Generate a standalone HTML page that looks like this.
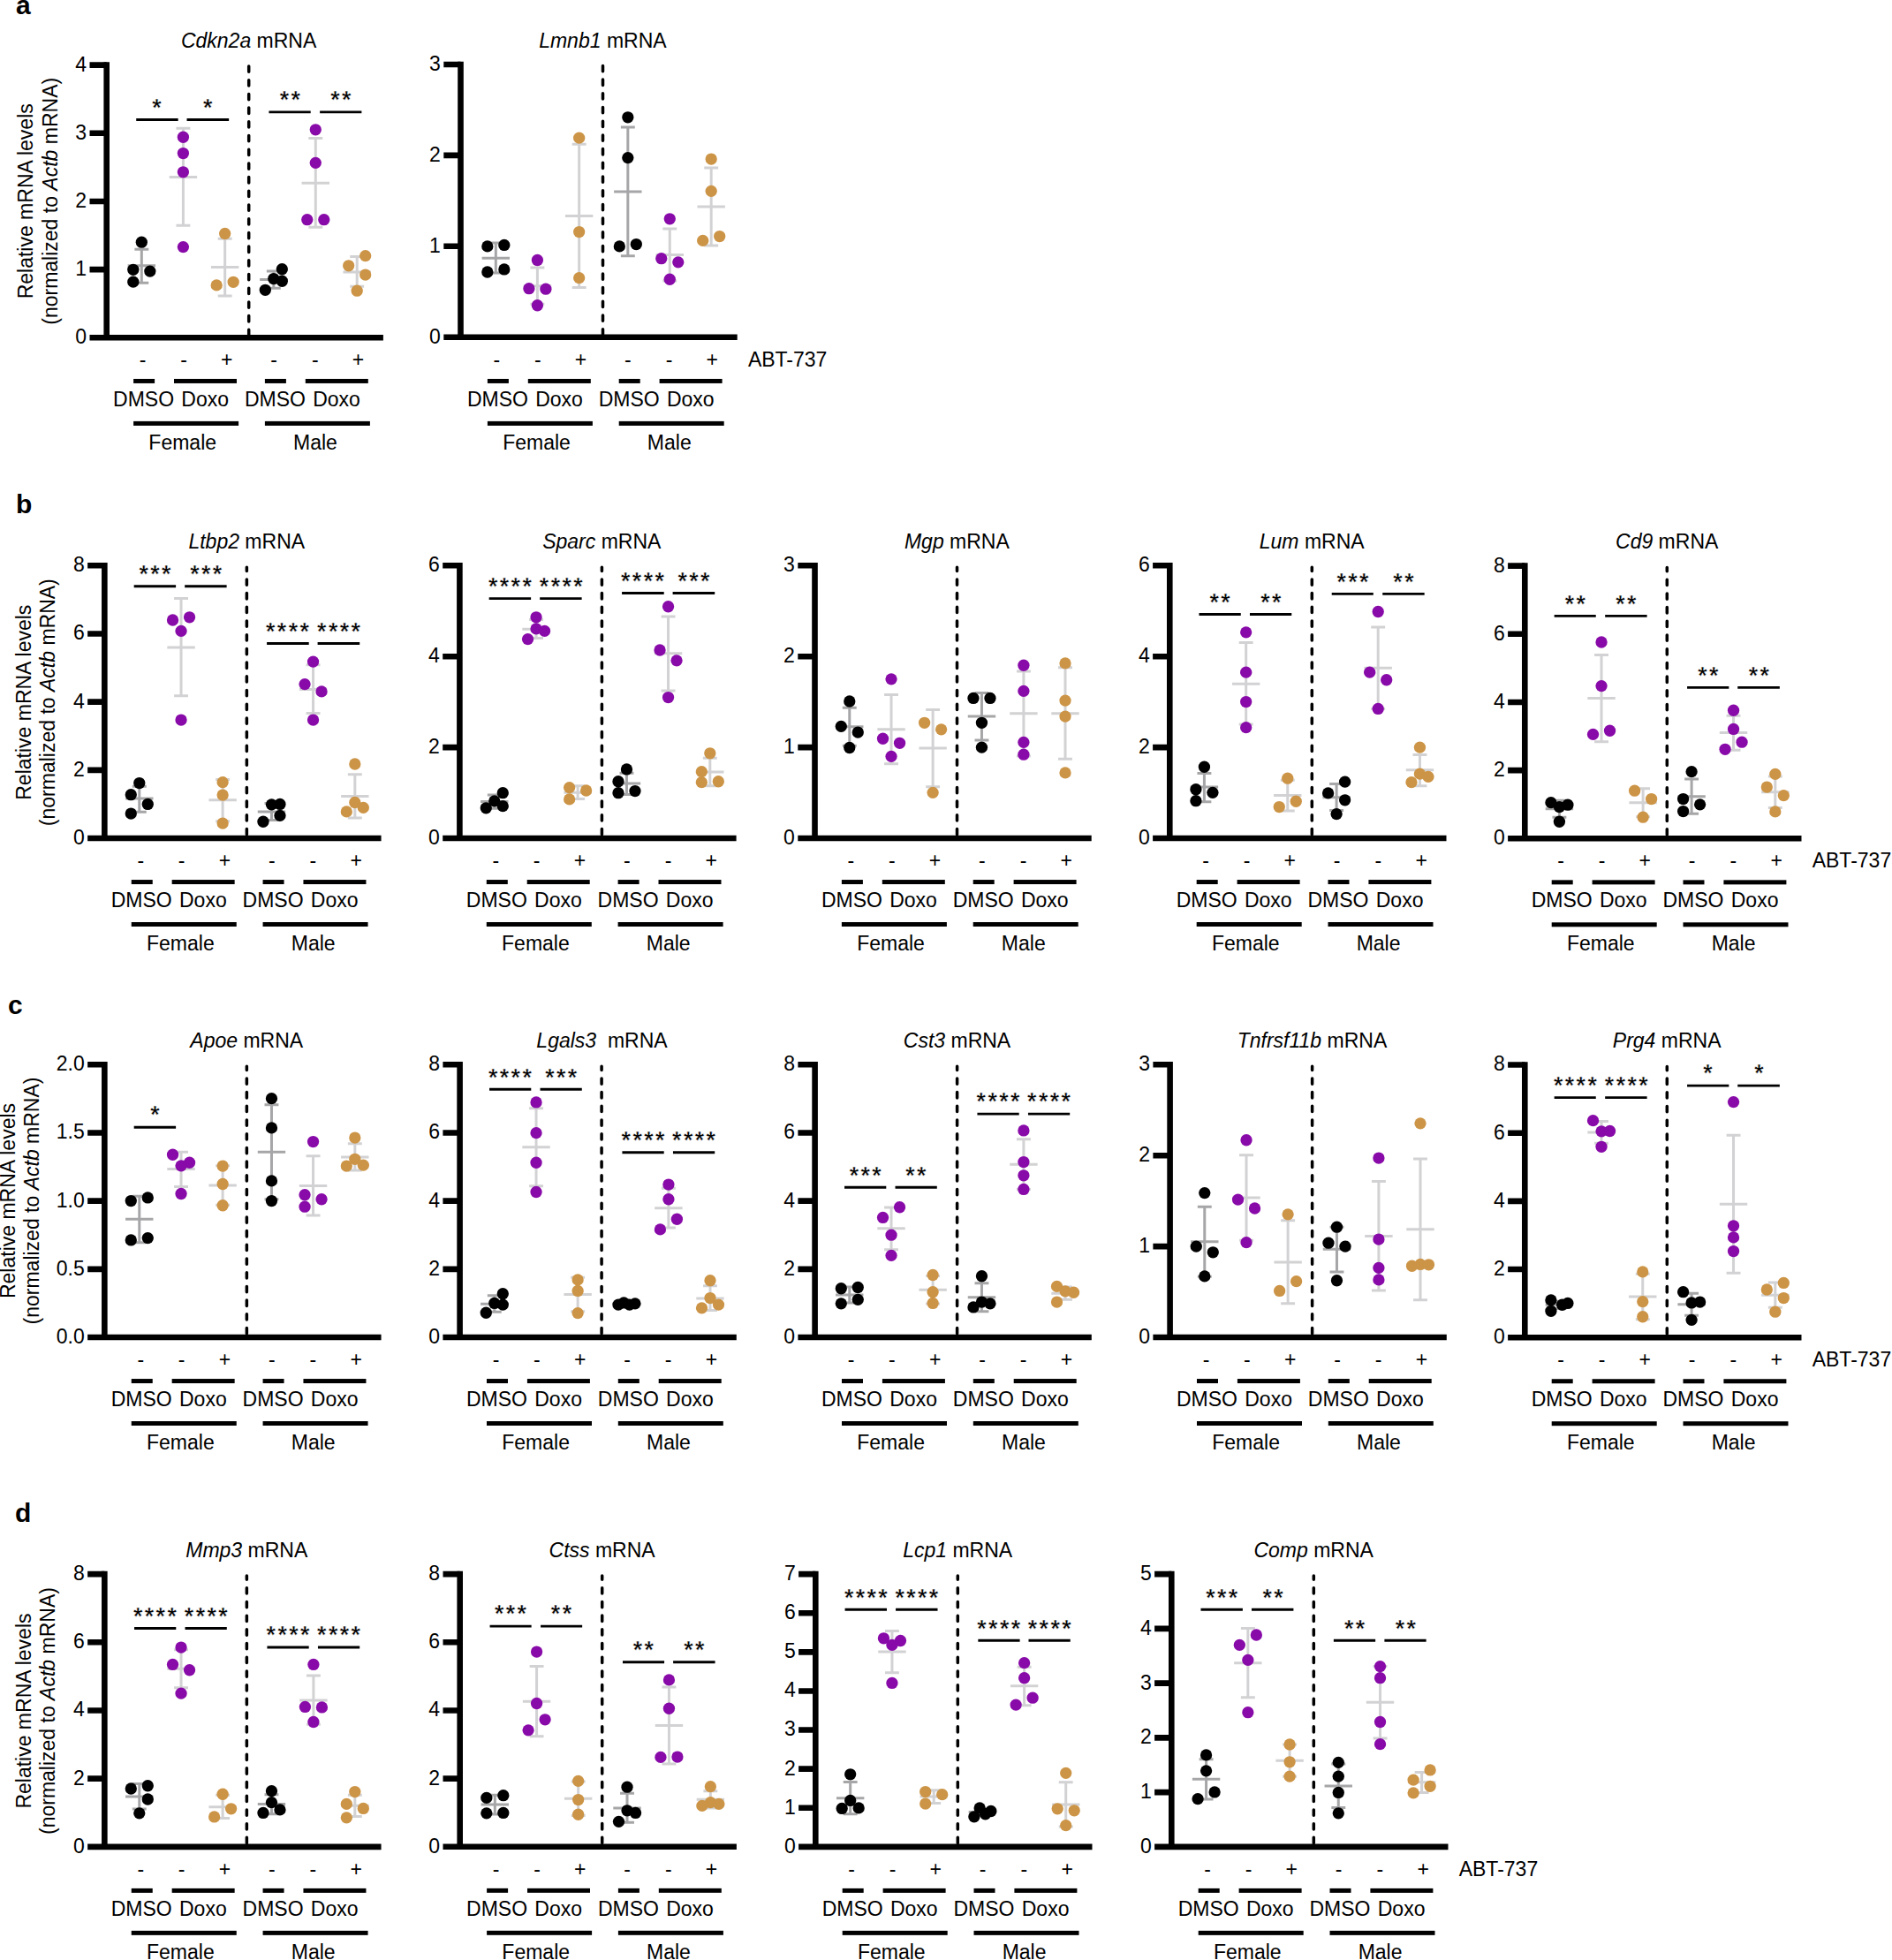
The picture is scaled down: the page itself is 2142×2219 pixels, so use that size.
<!DOCTYPE html>
<html lang="en"><head><meta charset="utf-8"><title>Relative mRNA levels</title>
<style>html,body{margin:0;padding:0;background:#fff}svg{display:block}text{font-family:'Liberation Sans', Arial, Helvetica, sans-serif;font-size:23px;fill:#000}.p{font-weight:bold;font-size:30px}.s{font-weight:bold;font-size:27.5px;letter-spacing:2.5px;stroke:#fff;stroke-width:.45px}</style></head><body>
<svg width="2142" height="2219" viewBox="0 0 2142 2219">
<rect width="2142" height="2219" fill="#fff"/>
<g id="a1">
<line x1="281.7" y1="379.6" x2="281.7" y2="74.65" stroke="#000" stroke-width="3.5" stroke-linecap="round" stroke-dasharray="6.3 9.4"/>
<path d="M160.32 282.29V320.21M152.37 282.29H168.27M152.37 320.21H168.27M144.62 300.8H176.02" stroke="#a6a6a8" stroke-width="3" fill="none"/>
<path d="M207.4 145.18V255.34M199.45 145.18H215.35M199.45 255.34H215.35M191.7 200.53H223.1" stroke="#d2d2d4" stroke-width="3" fill="none"/>
<path d="M254.66 270.25V334.95M246.71 270.25H262.61M246.71 334.95H262.61M238.96 302.6H270.36" stroke="#d2d2d4" stroke-width="3" fill="none"/>
<path d="M309.83 307.09V326.32M301.88 307.09H317.78M301.88 326.32H317.78M294.13 316.62H325.53" stroke="#a6a6a8" stroke-width="3" fill="none"/>
<path d="M357.27 156.5V257.32M349.32 156.5H365.22M349.32 257.32H365.22M341.57 207.36H372.97" stroke="#d2d2d4" stroke-width="3" fill="none"/>
<path d="M404.18 290.56V324.16M396.23 290.56H412.13M396.23 324.16H412.13M388.48 307.99H419.88" stroke="#d2d2d4" stroke-width="3" fill="none"/>
<g fill="#000000"><circle cx="160.32" cy="274.21" r="6.65"/><circle cx="150.82" cy="305.3" r="6.65"/><circle cx="169.82" cy="307.09" r="6.65"/><circle cx="150.82" cy="319.13" r="6.65"/></g>
<g fill="#880aa8"><circle cx="207.4" cy="155.24" r="6.65"/><circle cx="207.4" cy="173.57" r="6.65"/><circle cx="207.4" cy="194.78" r="6.65"/><circle cx="207.4" cy="279.6" r="6.65"/></g>
<g fill="#cc9446"><circle cx="254.66" cy="264.5" r="6.65"/><circle cx="245.16" cy="322.91" r="6.65"/><circle cx="264.16" cy="319.31" r="6.65"/></g>
<g fill="#000000"><circle cx="319.33" cy="304.76" r="6.65"/><circle cx="309.83" cy="315.54" r="6.65"/><circle cx="319.33" cy="318.23" r="6.65"/><circle cx="300.33" cy="328.3" r="6.65"/></g>
<g fill="#880aa8"><circle cx="357.27" cy="146.8" r="6.65"/><circle cx="357.27" cy="184.36" r="6.65"/><circle cx="347.77" cy="248.69" r="6.65"/><circle cx="366.77" cy="248.69" r="6.65"/></g>
<g fill="#cc9446"><circle cx="413.68" cy="289.66" r="6.65"/><circle cx="394.68" cy="300.8" r="6.65"/><circle cx="413.68" cy="311.05" r="6.65"/><circle cx="404.18" cy="329.2" r="6.65"/></g>
<path d="M120.7 70.3V385.6M101.5 382.3H433.9" stroke="#000" stroke-width="6.6" fill="none"/>
<path d="M101.5 305.12H120.7M101.5 227.95H120.7M101.5 150.78H120.7M101.5 73.6H120.7" stroke="#000" stroke-width="6.6" fill="none"/>
<text x="98.1" y="389.2" text-anchor="end">0</text>
<text x="98.1" y="312.02" text-anchor="end">1</text>
<text x="98.1" y="234.85" text-anchor="end">2</text>
<text x="98.1" y="157.68" text-anchor="end">3</text>
<text x="98.1" y="80.5" text-anchor="end">4</text>
<text x="281.6" y="53.7" text-anchor="middle" xml:space="preserve"><tspan font-style="italic">Cdkn2a</tspan> mRNA</text>
<line x1="154.21" y1="135.48" x2="201.65" y2="135.48" stroke="#000" stroke-width="2.9"/>
<text transform="translate(178.6 130.78) scale(0.97 1)" text-anchor="middle" class="s">*</text>
<line x1="211.53" y1="135.48" x2="259.15" y2="135.48" stroke="#000" stroke-width="2.9"/>
<text transform="translate(236.47 130.78) scale(0.97 1)" text-anchor="middle" class="s">*</text>
<line x1="304.44" y1="126.85" x2="351.7" y2="126.85" stroke="#000" stroke-width="2.9"/>
<text transform="translate(329.55 122.15) scale(0.97 1)" text-anchor="middle" class="s">**</text>
<line x1="362.12" y1="126.85" x2="409.39" y2="126.85" stroke="#000" stroke-width="2.9"/>
<text transform="translate(387.06 122.15) scale(0.97 1)" text-anchor="middle" class="s">**</text>
<text x="161.6" y="415" text-anchor="middle">-</text>
<text x="208" y="415" text-anchor="middle">-</text>
<text x="256.7" y="415" text-anchor="middle">+</text>
<text x="310.1" y="415" text-anchor="middle">-</text>
<text x="356.8" y="415" text-anchor="middle">-</text>
<text x="405.5" y="415" text-anchor="middle">+</text>
<rect x="151.1" y="428.95" width="24" height="5"/>
<rect x="197" y="428.95" width="71" height="5"/>
<rect x="151.1" y="476.9" width="119" height="5"/>
<text x="162.6" y="459.9" text-anchor="middle">DMSO</text>
<text x="232.2" y="459.9" text-anchor="middle">Doxo</text>
<rect x="299.9" y="428.95" width="24" height="5"/>
<rect x="345.8" y="428.95" width="71" height="5"/>
<rect x="299.9" y="476.9" width="119" height="5"/>
<text x="311.4" y="459.9" text-anchor="middle">DMSO</text>
<text x="381" y="459.9" text-anchor="middle">Doxo</text>
<text x="206.7" y="508.7" text-anchor="middle">Female</text>
<text x="357" y="508.7" text-anchor="middle">Male</text>
<text transform="translate(37 227.8) rotate(-90)" text-anchor="middle">Relative mRNA levels</text>
<text transform="translate(65 227.8) rotate(-90)" text-anchor="middle">(normalized to <tspan font-style="italic">Actb</tspan> mRNA)</text>
</g>
<g id="a2">
<line x1="682.5" y1="379" x2="682.5" y2="74.05" stroke="#000" stroke-width="3.5" stroke-linecap="round" stroke-dasharray="6.3 9.4"/>
<path d="M561.32 275.11V308.89M553.37 275.11H569.27M553.37 308.89H569.27M545.62 292.18H577.02" stroke="#a6a6a8" stroke-width="3" fill="none"/>
<path d="M608.4 302.96V344.29M600.45 302.96H616.35M600.45 344.29H616.35M592.7 323.63H624.1" stroke="#d2d2d4" stroke-width="3" fill="none"/>
<path d="M655.66 163.33V325.6M647.71 163.33H663.61M647.71 325.6H663.61M639.96 244.56H671.36" stroke="#d2d2d4" stroke-width="3" fill="none"/>
<path d="M710.83 143.92V289.66M702.88 143.92H718.78M702.88 289.66H718.78M695.13 216.88H726.53" stroke="#a6a6a8" stroke-width="3" fill="none"/>
<path d="M758.27 259.11V317.88M750.32 259.11H766.22M750.32 317.88H766.22M742.57 288.58H773.97" stroke="#d2d2d4" stroke-width="3" fill="none"/>
<path d="M805.18 189.93V277.98M797.23 189.93H813.13M797.23 277.98H813.13M789.48 233.95H820.88" stroke="#d2d2d4" stroke-width="3" fill="none"/>
<g fill="#000000"><circle cx="551.82" cy="278.88" r="6.65"/><circle cx="570.82" cy="277.44" r="6.65"/><circle cx="551.82" cy="307.99" r="6.65"/><circle cx="570.82" cy="304.94" r="6.65"/></g>
<g fill="#880aa8"><circle cx="608.4" cy="294.51" r="6.65"/><circle cx="598.9" cy="326.68" r="6.65"/><circle cx="617.9" cy="327.22" r="6.65"/><circle cx="608.4" cy="345.73" r="6.65"/></g>
<g fill="#cc9446"><circle cx="655.66" cy="156.14" r="6.65"/><circle cx="655.66" cy="262.53" r="6.65"/><circle cx="655.66" cy="314.64" r="6.65"/></g>
<g fill="#000000"><circle cx="710.83" cy="132.78" r="6.65"/><circle cx="710.83" cy="178.6" r="6.65"/><circle cx="701.33" cy="278.88" r="6.65"/><circle cx="720.33" cy="276.54" r="6.65"/></g>
<g fill="#880aa8"><circle cx="758.27" cy="247.79" r="6.65"/><circle cx="748.77" cy="292.72" r="6.65"/><circle cx="767.77" cy="296.85" r="6.65"/><circle cx="758.27" cy="316.26" r="6.65"/></g>
<g fill="#cc9446"><circle cx="805.18" cy="180.04" r="6.65"/><circle cx="805.18" cy="216.34" r="6.65"/><circle cx="795.68" cy="272.41" r="6.65"/><circle cx="814.68" cy="267.56" r="6.65"/></g>
<path d="M521.5 69.7V385M502.3 381.7H834.7" stroke="#000" stroke-width="6.6" fill="none"/>
<path d="M502.3 278.8H521.5M502.3 175.9H521.5M502.3 73H521.5" stroke="#000" stroke-width="6.6" fill="none"/>
<text x="498.9" y="388.6" text-anchor="end">0</text>
<text x="498.9" y="285.7" text-anchor="end">1</text>
<text x="498.9" y="182.8" text-anchor="end">2</text>
<text x="498.9" y="79.9" text-anchor="end">3</text>
<text x="682.4" y="53.7" text-anchor="middle" xml:space="preserve"><tspan font-style="italic">Lmnb1</tspan> mRNA</text>
<text x="562.4" y="415" text-anchor="middle">-</text>
<text x="608.8" y="415" text-anchor="middle">-</text>
<text x="657.5" y="415" text-anchor="middle">+</text>
<text x="710.9" y="415" text-anchor="middle">-</text>
<text x="757.6" y="415" text-anchor="middle">-</text>
<text x="806.3" y="415" text-anchor="middle">+</text>
<rect x="551.9" y="428.95" width="24" height="5"/>
<rect x="597.8" y="428.95" width="71" height="5"/>
<rect x="551.9" y="476.9" width="119" height="5"/>
<text x="563.4" y="459.9" text-anchor="middle">DMSO</text>
<text x="633" y="459.9" text-anchor="middle">Doxo</text>
<rect x="700.7" y="428.95" width="24" height="5"/>
<rect x="746.6" y="428.95" width="71" height="5"/>
<rect x="700.7" y="476.9" width="119" height="5"/>
<text x="712.2" y="459.9" text-anchor="middle">DMSO</text>
<text x="781.8" y="459.9" text-anchor="middle">Doxo</text>
<text x="607.5" y="508.7" text-anchor="middle">Female</text>
<text x="757.8" y="508.7" text-anchor="middle">Male</text>
<text x="846.9" y="414.7">ABT-737</text>
</g>
<g id="b1">
<line x1="279.35" y1="944.8" x2="279.35" y2="642.25" stroke="#000" stroke-width="3.5" stroke-linecap="round" stroke-dasharray="6.3 9.4"/>
<path d="M157.78 890.16V919.28M149.83 890.16H165.73M149.83 919.28H165.73M142.08 904H173.48" stroke="#a6a6a8" stroke-width="3" fill="none"/>
<path d="M205.04 677.58V787.73M197.09 677.58H212.99M197.09 787.73H212.99M189.34 732.92H220.74" stroke="#d2d2d4" stroke-width="3" fill="none"/>
<path d="M252.12 882.62V929.7M244.17 882.62H260.07M244.17 929.7H260.07M236.42 905.8H267.82" stroke="#d2d2d4" stroke-width="3" fill="none"/>
<path d="M307.47 909.57V928.44M299.52 909.57H315.42M299.52 928.44H315.42M291.77 918.92H323.17" stroke="#a6a6a8" stroke-width="3" fill="none"/>
<path d="M354.55 752.69V807.5M346.6 752.69H362.5M346.6 807.5H362.5M338.85 780.55H370.25" stroke="#d2d2d4" stroke-width="3" fill="none"/>
<path d="M401.82 876.69V926.11M393.87 876.69H409.77M393.87 926.11H409.77M386.12 901.49H417.52" stroke="#d2d2d4" stroke-width="3" fill="none"/>
<g fill="#000000"><circle cx="157.78" cy="886.57" r="6.65"/><circle cx="148.28" cy="899.69" r="6.65"/><circle cx="167.28" cy="910.47" r="6.65"/><circle cx="148.28" cy="921.07" r="6.65"/></g>
<g fill="#880aa8"><circle cx="195.54" cy="702.01" r="6.65"/><circle cx="214.54" cy="698.78" r="6.65"/><circle cx="205.04" cy="714.41" r="6.65"/><circle cx="205.04" cy="815.05" r="6.65"/></g>
<g fill="#cc9446"><circle cx="252.12" cy="885.67" r="6.65"/><circle cx="252.12" cy="900.05" r="6.65"/><circle cx="252.12" cy="932.04" r="6.65"/></g>
<g fill="#000000"><circle cx="307.47" cy="910.83" r="6.65"/><circle cx="316.97" cy="910.47" r="6.65"/><circle cx="316.97" cy="923.41" r="6.65"/><circle cx="297.97" cy="930.24" r="6.65"/></g>
<g fill="#880aa8"><circle cx="354.55" cy="749.1" r="6.65"/><circle cx="345.05" cy="774.62" r="6.65"/><circle cx="364.05" cy="782.88" r="6.65"/><circle cx="354.55" cy="815.05" r="6.65"/></g>
<g fill="#cc9446"><circle cx="401.82" cy="865.01" r="6.65"/><circle cx="401.82" cy="908.49" r="6.65"/><circle cx="411.32" cy="914.42" r="6.65"/><circle cx="392.32" cy="918.92" r="6.65"/></g>
<path d="M118.35 637V952.3M99.15 949H431.55" stroke="#000" stroke-width="6.6" fill="none"/>
<path d="M99.15 871.83H118.35M99.15 794.65H118.35M99.15 717.48H118.35M99.15 640.3H118.35" stroke="#000" stroke-width="6.6" fill="none"/>
<text x="95.75" y="955.9" text-anchor="end">0</text>
<text x="95.75" y="878.73" text-anchor="end">2</text>
<text x="95.75" y="801.55" text-anchor="end">4</text>
<text x="95.75" y="724.38" text-anchor="end">6</text>
<text x="95.75" y="647.2" text-anchor="end">8</text>
<text x="279.25" y="620.8" text-anchor="middle" xml:space="preserve"><tspan font-style="italic">Ltbp2</tspan> mRNA</text>
<line x1="151.67" y1="663.74" x2="199.11" y2="663.74" stroke="#000" stroke-width="2.9"/>
<text transform="translate(176.6 659.04) scale(0.97 1)" text-anchor="middle" class="s">***</text>
<line x1="209.17" y1="663.74" x2="256.62" y2="663.74" stroke="#000" stroke-width="2.9"/>
<text transform="translate(234.47 659.04) scale(0.97 1)" text-anchor="middle" class="s">***</text>
<line x1="302.08" y1="728.43" x2="349.7" y2="728.43" stroke="#000" stroke-width="2.9"/>
<text transform="translate(326.65 723.73) scale(0.97 1)" text-anchor="middle" class="s">****</text>
<line x1="359.59" y1="728.43" x2="407.21" y2="728.43" stroke="#000" stroke-width="2.9"/>
<text transform="translate(384.7 723.73) scale(0.97 1)" text-anchor="middle" class="s">****</text>
<text x="159.25" y="982.1" text-anchor="middle">-</text>
<text x="205.65" y="982.1" text-anchor="middle">-</text>
<text x="254.35" y="982.1" text-anchor="middle">+</text>
<text x="307.75" y="982.1" text-anchor="middle">-</text>
<text x="354.45" y="982.1" text-anchor="middle">-</text>
<text x="403.15" y="982.1" text-anchor="middle">+</text>
<rect x="148.75" y="996.05" width="24" height="5"/>
<rect x="194.65" y="996.05" width="71" height="5"/>
<rect x="148.75" y="1044" width="119" height="5"/>
<text x="160.25" y="1027" text-anchor="middle">DMSO</text>
<text x="229.85" y="1027" text-anchor="middle">Doxo</text>
<rect x="297.55" y="996.05" width="24" height="5"/>
<rect x="343.45" y="996.05" width="71" height="5"/>
<rect x="297.55" y="1044" width="119" height="5"/>
<text x="309.05" y="1027" text-anchor="middle">DMSO</text>
<text x="378.65" y="1027" text-anchor="middle">Doxo</text>
<text x="204.35" y="1075.8" text-anchor="middle">Female</text>
<text x="354.65" y="1075.8" text-anchor="middle">Male</text>
<text transform="translate(34.75 795.2) rotate(-90)" text-anchor="middle">Relative mRNA levels</text>
<text transform="translate(62 795.2) rotate(-90)" text-anchor="middle">(normalized to <tspan font-style="italic">Actb</tspan> mRNA)</text>
</g>
<g id="b2">
<line x1="681.4" y1="944.8" x2="681.4" y2="642.25" stroke="#000" stroke-width="3.5" stroke-linecap="round" stroke-dasharray="6.3 9.4"/>
<path d="M559.78 900.05V915.32M551.83 900.05H567.73M551.83 915.32H567.73M544.08 907.6H575.48" stroke="#a6a6a8" stroke-width="3" fill="none"/>
<path d="M607.04 701.48V722.5M599.09 701.48H614.99M599.09 722.5H614.99M591.34 712.26H622.74" stroke="#d2d2d4" stroke-width="3" fill="none"/>
<path d="M654.12 889.81V904.54M646.17 889.81H662.07M646.17 904.54H662.07M638.42 897.35H669.82" stroke="#d2d2d4" stroke-width="3" fill="none"/>
<path d="M709.47 875.25V899.51M701.52 875.25H717.42M701.52 899.51H717.42M693.77 887.11H725.17" stroke="#a6a6a8" stroke-width="3" fill="none"/>
<path d="M756.55 697.88V781.98M748.6 697.88H764.5M748.6 781.98H764.5M740.85 739.75H772.25" stroke="#d2d2d4" stroke-width="3" fill="none"/>
<path d="M803.82 858.36V889.81M795.87 858.36H811.77M795.87 889.81H811.77M788.12 873.99H819.52" stroke="#d2d2d4" stroke-width="3" fill="none"/>
<g fill="#000000"><circle cx="569.28" cy="897.71" r="6.65"/><circle cx="559.78" cy="906.88" r="6.65"/><circle cx="569.28" cy="912.63" r="6.65"/><circle cx="550.28" cy="914.78" r="6.65"/></g>
<g fill="#880aa8"><circle cx="607.04" cy="698.78" r="6.65"/><circle cx="607.04" cy="711.9" r="6.65"/><circle cx="616.54" cy="714.41" r="6.65"/><circle cx="597.54" cy="723.58" r="6.65"/></g>
<g fill="#cc9446"><circle cx="644.62" cy="891.6" r="6.65"/><circle cx="663.62" cy="895.02" r="6.65"/><circle cx="644.62" cy="904.9" r="6.65"/></g>
<g fill="#000000"><circle cx="709.47" cy="870.94" r="6.65"/><circle cx="699.97" cy="884.77" r="6.65"/><circle cx="699.97" cy="897.71" r="6.65"/><circle cx="718.97" cy="895.56" r="6.65"/></g>
<g fill="#880aa8"><circle cx="756.55" cy="686.74" r="6.65"/><circle cx="747.05" cy="735.98" r="6.65"/><circle cx="766.05" cy="747.84" r="6.65"/><circle cx="756.55" cy="789.53" r="6.65"/></g>
<g fill="#cc9446"><circle cx="803.82" cy="852.79" r="6.65"/><circle cx="794.32" cy="873.63" r="6.65"/><circle cx="794.32" cy="885.67" r="6.65"/><circle cx="813.32" cy="884.77" r="6.65"/></g>
<path d="M520.4 637V952.3M501.2 949H833.6" stroke="#000" stroke-width="6.6" fill="none"/>
<path d="M501.2 846.1H520.4M501.2 743.2H520.4M501.2 640.3H520.4" stroke="#000" stroke-width="6.6" fill="none"/>
<text x="497.8" y="955.9" text-anchor="end">0</text>
<text x="497.8" y="853" text-anchor="end">2</text>
<text x="497.8" y="750.1" text-anchor="end">4</text>
<text x="497.8" y="647.2" text-anchor="end">6</text>
<text x="681.3" y="620.8" text-anchor="middle" xml:space="preserve"><tspan font-style="italic">Sparc</tspan> mRNA</text>
<line x1="553.67" y1="677.58" x2="601.11" y2="677.58" stroke="#000" stroke-width="2.9"/>
<text transform="translate(578.6 672.88) scale(0.97 1)" text-anchor="middle" class="s">****</text>
<line x1="611.17" y1="677.58" x2="658.62" y2="677.58" stroke="#000" stroke-width="2.9"/>
<text transform="translate(636.47 672.88) scale(0.97 1)" text-anchor="middle" class="s">****</text>
<line x1="704.08" y1="671.47" x2="751.7" y2="671.47" stroke="#000" stroke-width="2.9"/>
<text transform="translate(728.65 666.77) scale(0.97 1)" text-anchor="middle" class="s">****</text>
<line x1="761.59" y1="671.47" x2="809.21" y2="671.47" stroke="#000" stroke-width="2.9"/>
<text transform="translate(786.7 666.77) scale(0.97 1)" text-anchor="middle" class="s">***</text>
<text x="561.3" y="982.1" text-anchor="middle">-</text>
<text x="607.7" y="982.1" text-anchor="middle">-</text>
<text x="656.4" y="982.1" text-anchor="middle">+</text>
<text x="709.8" y="982.1" text-anchor="middle">-</text>
<text x="756.5" y="982.1" text-anchor="middle">-</text>
<text x="805.2" y="982.1" text-anchor="middle">+</text>
<rect x="550.8" y="996.05" width="24" height="5"/>
<rect x="596.7" y="996.05" width="71" height="5"/>
<rect x="550.8" y="1044" width="119" height="5"/>
<text x="562.3" y="1027" text-anchor="middle">DMSO</text>
<text x="631.9" y="1027" text-anchor="middle">Doxo</text>
<rect x="699.6" y="996.05" width="24" height="5"/>
<rect x="745.5" y="996.05" width="71" height="5"/>
<rect x="699.6" y="1044" width="119" height="5"/>
<text x="711.1" y="1027" text-anchor="middle">DMSO</text>
<text x="780.7" y="1027" text-anchor="middle">Doxo</text>
<text x="606.4" y="1075.8" text-anchor="middle">Female</text>
<text x="756.7" y="1075.8" text-anchor="middle">Male</text>
</g>
<g id="b3">
<line x1="1083.5" y1="944.8" x2="1083.5" y2="642.25" stroke="#000" stroke-width="3.5" stroke-linecap="round" stroke-dasharray="6.3 9.4"/>
<path d="M961.78 801.21V844.34M953.83 801.21H969.73M953.83 844.34H969.73M946.08 822.78H977.48" stroke="#a6a6a8" stroke-width="3" fill="none"/>
<path d="M1009.04 786.48V864.65M1001.09 786.48H1016.99M1001.09 864.65H1016.99M993.34 825.83H1024.74" stroke="#d2d2d4" stroke-width="3" fill="none"/>
<path d="M1056.12 803.55V890.7M1048.17 803.55H1064.07M1048.17 890.7H1064.07M1040.42 847.04H1071.82" stroke="#d2d2d4" stroke-width="3" fill="none"/>
<path d="M1111.47 784.5V838.05M1103.52 784.5H1119.42M1103.52 838.05H1119.42M1095.77 811.1H1127.17" stroke="#a6a6a8" stroke-width="3" fill="none"/>
<path d="M1158.91 759.88V856.02M1150.96 759.88H1166.86M1150.96 856.02H1166.86M1143.21 807.86H1174.61" stroke="#d2d2d4" stroke-width="3" fill="none"/>
<path d="M1206 755.75V859.26M1198.05 755.75H1213.95M1198.05 859.26H1213.95M1190.3 807.86H1221.7" stroke="#d2d2d4" stroke-width="3" fill="none"/>
<g fill="#000000"><circle cx="961.78" cy="794.02" r="6.65"/><circle cx="952.28" cy="822.42" r="6.65"/><circle cx="971.28" cy="829.07" r="6.65"/><circle cx="961.78" cy="846.5" r="6.65"/></g>
<g fill="#880aa8"><circle cx="1009.04" cy="768.86" r="6.65"/><circle cx="999.54" cy="836.25" r="6.65"/><circle cx="1018.54" cy="841.29" r="6.65"/><circle cx="1009.04" cy="856.38" r="6.65"/></g>
<g fill="#cc9446"><circle cx="1046.62" cy="818.28" r="6.65"/><circle cx="1065.62" cy="825.83" r="6.65"/><circle cx="1056.12" cy="897.35" r="6.65"/></g>
<g fill="#000000"><circle cx="1101.97" cy="790.43" r="6.65"/><circle cx="1120.97" cy="790.43" r="6.65"/><circle cx="1111.47" cy="818.28" r="6.65"/><circle cx="1111.47" cy="846.14" r="6.65"/></g>
<g fill="#880aa8"><circle cx="1158.91" cy="753.23" r="6.65"/><circle cx="1158.91" cy="782.34" r="6.65"/><circle cx="1158.91" cy="840.39" r="6.65"/><circle cx="1158.91" cy="854.22" r="6.65"/></g>
<g fill="#cc9446"><circle cx="1206" cy="750.89" r="6.65"/><circle cx="1206" cy="793.12" r="6.65"/><circle cx="1206" cy="811.1" r="6.65"/><circle cx="1206" cy="874.89" r="6.65"/></g>
<path d="M922.5 637V952.3M903.3 949H1235.7" stroke="#000" stroke-width="6.6" fill="none"/>
<path d="M903.3 846.1H922.5M903.3 743.2H922.5M903.3 640.3H922.5" stroke="#000" stroke-width="6.6" fill="none"/>
<text x="899.9" y="955.9" text-anchor="end">0</text>
<text x="899.9" y="853" text-anchor="end">1</text>
<text x="899.9" y="750.1" text-anchor="end">2</text>
<text x="899.9" y="647.2" text-anchor="end">3</text>
<text x="1083.4" y="620.8" text-anchor="middle" xml:space="preserve"><tspan font-style="italic">Mgp</tspan> mRNA</text>
<text x="963.4" y="982.1" text-anchor="middle">-</text>
<text x="1009.8" y="982.1" text-anchor="middle">-</text>
<text x="1058.5" y="982.1" text-anchor="middle">+</text>
<text x="1111.9" y="982.1" text-anchor="middle">-</text>
<text x="1158.6" y="982.1" text-anchor="middle">-</text>
<text x="1207.3" y="982.1" text-anchor="middle">+</text>
<rect x="952.9" y="996.05" width="24" height="5"/>
<rect x="998.8" y="996.05" width="71" height="5"/>
<rect x="952.9" y="1044" width="119" height="5"/>
<text x="964.4" y="1027" text-anchor="middle">DMSO</text>
<text x="1034" y="1027" text-anchor="middle">Doxo</text>
<rect x="1101.7" y="996.05" width="24" height="5"/>
<rect x="1147.6" y="996.05" width="71" height="5"/>
<rect x="1101.7" y="1044" width="119" height="5"/>
<text x="1113.2" y="1027" text-anchor="middle">DMSO</text>
<text x="1182.8" y="1027" text-anchor="middle">Doxo</text>
<text x="1008.5" y="1075.8" text-anchor="middle">Female</text>
<text x="1158.8" y="1075.8" text-anchor="middle">Male</text>
</g>
<g id="b4">
<line x1="1485.3" y1="944.8" x2="1485.3" y2="642.25" stroke="#000" stroke-width="3.5" stroke-linecap="round" stroke-dasharray="6.3 9.4"/>
<path d="M1363.42 875.43V907.78M1355.47 875.43H1371.37M1355.47 907.78H1371.37M1347.72 891.06H1379.12" stroke="#a6a6a8" stroke-width="3" fill="none"/>
<path d="M1410.68 727.53V820.08M1402.73 727.53H1418.63M1402.73 820.08H1418.63M1394.98 774.26H1426.38" stroke="#d2d2d4" stroke-width="3" fill="none"/>
<path d="M1457.76 883.16V918.02M1449.81 883.16H1465.71M1449.81 918.02H1465.71M1442.06 900.59H1473.46" stroke="#d2d2d4" stroke-width="3" fill="none"/>
<path d="M1513.11 887.47V917.48M1505.16 887.47H1521.06M1505.16 917.48H1521.06M1497.41 902.74H1528.81" stroke="#a6a6a8" stroke-width="3" fill="none"/>
<path d="M1560.19 710.1V802.47M1552.24 710.1H1568.14M1552.24 802.47H1568.14M1544.49 756.29H1575.89" stroke="#d2d2d4" stroke-width="3" fill="none"/>
<path d="M1607.46 854.58V889.63M1599.51 854.58H1615.41M1599.51 889.63H1615.41M1591.76 871.84H1623.16" stroke="#d2d2d4" stroke-width="3" fill="none"/>
<g fill="#000000"><circle cx="1363.42" cy="868.24" r="6.65"/><circle cx="1353.92" cy="893.76" r="6.65"/><circle cx="1372.92" cy="897.35" r="6.65"/><circle cx="1353.92" cy="906.7" r="6.65"/></g>
<g fill="#880aa8"><circle cx="1410.68" cy="715.85" r="6.65"/><circle cx="1410.68" cy="761.14" r="6.65"/><circle cx="1410.68" cy="794.56" r="6.65"/><circle cx="1410.68" cy="823.67" r="6.65"/></g>
<g fill="#cc9446"><circle cx="1457.76" cy="881.18" r="6.65"/><circle cx="1467.26" cy="907.24" r="6.65"/><circle cx="1448.26" cy="913.53" r="6.65"/></g>
<g fill="#000000"><circle cx="1522.61" cy="885.13" r="6.65"/><circle cx="1503.61" cy="897.89" r="6.65"/><circle cx="1522.61" cy="905.8" r="6.65"/><circle cx="1513.11" cy="921.61" r="6.65"/></g>
<g fill="#880aa8"><circle cx="1560.19" cy="692.49" r="6.65"/><circle cx="1550.69" cy="761.14" r="6.65"/><circle cx="1569.69" cy="769.76" r="6.65"/><circle cx="1560.19" cy="802.47" r="6.65"/></g>
<g fill="#cc9446"><circle cx="1607.46" cy="846.14" r="6.65"/><circle cx="1607.46" cy="876.15" r="6.65"/><circle cx="1616.96" cy="879.38" r="6.65"/><circle cx="1597.96" cy="885.67" r="6.65"/></g>
<path d="M1324.3 637V952.3M1305.1 949H1637.5" stroke="#000" stroke-width="6.6" fill="none"/>
<path d="M1305.1 846.1H1324.3M1305.1 743.2H1324.3M1305.1 640.3H1324.3" stroke="#000" stroke-width="6.6" fill="none"/>
<text x="1301.7" y="955.9" text-anchor="end">0</text>
<text x="1301.7" y="853" text-anchor="end">2</text>
<text x="1301.7" y="750.1" text-anchor="end">4</text>
<text x="1301.7" y="647.2" text-anchor="end">6</text>
<text x="1485.2" y="620.8" text-anchor="middle" xml:space="preserve"><tspan font-style="italic">Lum</tspan> mRNA</text>
<line x1="1357.49" y1="695.55" x2="1404.75" y2="695.55" stroke="#000" stroke-width="2.9"/>
<text transform="translate(1382.24 690.85) scale(0.97 1)" text-anchor="middle" class="s">**</text>
<line x1="1414.99" y1="695.55" x2="1462.26" y2="695.55" stroke="#000" stroke-width="2.9"/>
<text transform="translate(1440.11 690.85) scale(0.97 1)" text-anchor="middle" class="s">**</text>
<line x1="1507.72" y1="672.36" x2="1554.8" y2="672.36" stroke="#000" stroke-width="2.9"/>
<text transform="translate(1532.65 667.66) scale(0.97 1)" text-anchor="middle" class="s">***</text>
<line x1="1565.23" y1="672.36" x2="1612.67" y2="672.36" stroke="#000" stroke-width="2.9"/>
<text transform="translate(1590.16 667.66) scale(0.97 1)" text-anchor="middle" class="s">**</text>
<text x="1365.2" y="982.1" text-anchor="middle">-</text>
<text x="1411.6" y="982.1" text-anchor="middle">-</text>
<text x="1460.3" y="982.1" text-anchor="middle">+</text>
<text x="1513.7" y="982.1" text-anchor="middle">-</text>
<text x="1560.4" y="982.1" text-anchor="middle">-</text>
<text x="1609.1" y="982.1" text-anchor="middle">+</text>
<rect x="1354.7" y="996.05" width="24" height="5"/>
<rect x="1400.6" y="996.05" width="71" height="5"/>
<rect x="1354.7" y="1044" width="119" height="5"/>
<text x="1366.2" y="1027" text-anchor="middle">DMSO</text>
<text x="1435.8" y="1027" text-anchor="middle">Doxo</text>
<rect x="1503.5" y="996.05" width="24" height="5"/>
<rect x="1549.4" y="996.05" width="71" height="5"/>
<rect x="1503.5" y="1044" width="119" height="5"/>
<text x="1515" y="1027" text-anchor="middle">DMSO</text>
<text x="1584.6" y="1027" text-anchor="middle">Doxo</text>
<text x="1410.3" y="1075.8" text-anchor="middle">Female</text>
<text x="1560.6" y="1075.8" text-anchor="middle">Male</text>
</g>
<g id="b5">
<line x1="1887.3" y1="945.1" x2="1887.3" y2="642.55" stroke="#000" stroke-width="3.5" stroke-linecap="round" stroke-dasharray="6.3 9.4"/>
<path d="M1765.42 906.16V925.21M1757.47 906.16H1773.37M1757.47 925.21H1773.37M1749.72 915.68H1781.12" stroke="#a6a6a8" stroke-width="3" fill="none"/>
<path d="M1813.04 741.55V839.85M1805.09 741.55H1820.99M1805.09 839.85H1820.99M1797.34 790.43H1828.74" stroke="#d2d2d4" stroke-width="3" fill="none"/>
<path d="M1860.12 892.86V924.67M1852.17 892.86H1868.07M1852.17 924.67H1868.07M1844.42 908.67H1875.82" stroke="#d2d2d4" stroke-width="3" fill="none"/>
<path d="M1915.11 882.08V921.25M1907.16 882.08H1923.06M1907.16 921.25H1923.06M1899.41 901.85H1930.81" stroke="#a6a6a8" stroke-width="3" fill="none"/>
<path d="M1962.55 810.2V849.37M1954.6 810.2H1970.5M1954.6 849.37H1970.5M1946.85 829.42H1978.25" stroke="#d2d2d4" stroke-width="3" fill="none"/>
<path d="M2009.82 879.02V914.42M2001.87 879.02H2017.77M2001.87 914.42H2017.77M1994.12 896.81H2025.52" stroke="#d2d2d4" stroke-width="3" fill="none"/>
<g fill="#000000"><circle cx="1755.92" cy="908.67" r="6.65"/><circle cx="1774.92" cy="911.19" r="6.65"/><circle cx="1765.42" cy="913.53" r="6.65"/><circle cx="1765.42" cy="930.24" r="6.65"/></g>
<g fill="#880aa8"><circle cx="1813.04" cy="726.99" r="6.65"/><circle cx="1813.04" cy="776.59" r="6.65"/><circle cx="1822.54" cy="827.27" r="6.65"/><circle cx="1803.54" cy="831.4" r="6.65"/></g>
<g fill="#cc9446"><circle cx="1850.62" cy="895.2" r="6.65"/><circle cx="1869.62" cy="904.54" r="6.65"/><circle cx="1860.12" cy="925.21" r="6.65"/></g>
<g fill="#000000"><circle cx="1915.11" cy="873.63" r="6.65"/><circle cx="1905.61" cy="904.54" r="6.65"/><circle cx="1924.61" cy="910.83" r="6.65"/><circle cx="1905.61" cy="918.56" r="6.65"/></g>
<g fill="#880aa8"><circle cx="1962.55" cy="804.27" r="6.65"/><circle cx="1962.55" cy="825.47" r="6.65"/><circle cx="1972.05" cy="840.21" r="6.65"/><circle cx="1953.05" cy="848.29" r="6.65"/></g>
<g fill="#cc9446"><circle cx="2009.82" cy="876.33" r="6.65"/><circle cx="2000.32" cy="891.06" r="6.65"/><circle cx="2019.32" cy="900.59" r="6.65"/><circle cx="2009.82" cy="918.92" r="6.65"/></g>
<path d="M1726.3 637.3V952.6M1707.1 949.3H2039.5" stroke="#000" stroke-width="6.6" fill="none"/>
<path d="M1707.1 872.12H1726.3M1707.1 794.95H1726.3M1707.1 717.77H1726.3M1707.1 640.6H1726.3" stroke="#000" stroke-width="6.6" fill="none"/>
<text x="1703.7" y="956.2" text-anchor="end">0</text>
<text x="1703.7" y="879.02" text-anchor="end">2</text>
<text x="1703.7" y="801.85" text-anchor="end">4</text>
<text x="1703.7" y="724.67" text-anchor="end">6</text>
<text x="1703.7" y="647.5" text-anchor="end">8</text>
<text x="1887.2" y="621.1" text-anchor="middle" xml:space="preserve"><tspan font-style="italic">Cd9</tspan> mRNA</text>
<line x1="1759.67" y1="697.34" x2="1806.75" y2="697.34" stroke="#000" stroke-width="2.9"/>
<text transform="translate(1784.6 692.64) scale(0.97 1)" text-anchor="middle" class="s">**</text>
<line x1="1817.17" y1="697.34" x2="1864.62" y2="697.34" stroke="#000" stroke-width="2.9"/>
<text transform="translate(1842.11 692.64) scale(0.97 1)" text-anchor="middle" class="s">**</text>
<line x1="1910.08" y1="778.39" x2="1957.34" y2="778.39" stroke="#000" stroke-width="2.9"/>
<text transform="translate(1935.01 773.69) scale(0.97 1)" text-anchor="middle" class="s">**</text>
<line x1="1967.23" y1="778.39" x2="2014.85" y2="778.39" stroke="#000" stroke-width="2.9"/>
<text transform="translate(1992.52 773.69) scale(0.97 1)" text-anchor="middle" class="s">**</text>
<text x="1767.2" y="982.4" text-anchor="middle">-</text>
<text x="1813.6" y="982.4" text-anchor="middle">-</text>
<text x="1862.3" y="982.4" text-anchor="middle">+</text>
<text x="1915.7" y="982.4" text-anchor="middle">-</text>
<text x="1962.4" y="982.4" text-anchor="middle">-</text>
<text x="2011.1" y="982.4" text-anchor="middle">+</text>
<rect x="1756.7" y="996.35" width="24" height="5"/>
<rect x="1802.6" y="996.35" width="71" height="5"/>
<rect x="1756.7" y="1044.3" width="119" height="5"/>
<text x="1768.2" y="1027.3" text-anchor="middle">DMSO</text>
<text x="1837.8" y="1027.3" text-anchor="middle">Doxo</text>
<rect x="1905.5" y="996.35" width="24" height="5"/>
<rect x="1951.4" y="996.35" width="71" height="5"/>
<rect x="1905.5" y="1044.3" width="119" height="5"/>
<text x="1917" y="1027.3" text-anchor="middle">DMSO</text>
<text x="1986.6" y="1027.3" text-anchor="middle">Doxo</text>
<text x="1812.3" y="1076.1" text-anchor="middle">Female</text>
<text x="1962.6" y="1076.1" text-anchor="middle">Male</text>
<text x="2051.7" y="982.1">ABT-737</text>
</g>
<g id="c1">
<line x1="279.35" y1="1509.8" x2="279.35" y2="1207.25" stroke="#000" stroke-width="3.5" stroke-linecap="round" stroke-dasharray="6.3 9.4"/>
<path d="M157.78 1354.17V1406.64M149.83 1354.17H165.73M149.83 1406.64H165.73M142.08 1380.23H173.48" stroke="#a6a6a8" stroke-width="3" fill="none"/>
<path d="M205.04 1304.21V1343.39M197.09 1304.21H212.99M197.09 1343.39H212.99M189.34 1323.62H220.74" stroke="#d2d2d4" stroke-width="3" fill="none"/>
<path d="M252.12 1319.67V1364.23M244.17 1319.67H260.07M244.17 1364.23H260.07M236.42 1341.95H267.82" stroke="#d2d2d4" stroke-width="3" fill="none"/>
<path d="M307.47 1250.84V1357.77M299.52 1250.84H315.42M299.52 1357.77H315.42M291.77 1304.21H323.17" stroke="#a6a6a8" stroke-width="3" fill="none"/>
<path d="M354.55 1308.71V1376.1M346.6 1308.71H362.5M346.6 1376.1H362.5M338.85 1342.49H370.25" stroke="#d2d2d4" stroke-width="3" fill="none"/>
<path d="M401.82 1294.87V1324.88M393.87 1294.87H409.77M393.87 1324.88H409.77M386.12 1309.96H417.52" stroke="#d2d2d4" stroke-width="3" fill="none"/>
<g fill="#000000"><circle cx="148.28" cy="1359.56" r="6.65"/><circle cx="167.28" cy="1355.97" r="6.65"/><circle cx="148.28" cy="1403.95" r="6.65"/><circle cx="167.28" cy="1401.61" r="6.65"/></g>
<g fill="#880aa8"><circle cx="195.54" cy="1307.27" r="6.65"/><circle cx="214.54" cy="1316.25" r="6.65"/><circle cx="205.04" cy="1319.85" r="6.65"/><circle cx="205.04" cy="1351.48" r="6.65"/></g>
<g fill="#cc9446"><circle cx="252.12" cy="1320.03" r="6.65"/><circle cx="252.12" cy="1340.51" r="6.65"/><circle cx="252.12" cy="1364.77" r="6.65"/></g>
<g fill="#000000"><circle cx="307.47" cy="1243.65" r="6.65"/><circle cx="307.47" cy="1276.9" r="6.65"/><circle cx="307.47" cy="1336.92" r="6.65"/><circle cx="307.47" cy="1359.56" r="6.65"/></g>
<g fill="#880aa8"><circle cx="354.55" cy="1292.53" r="6.65"/><circle cx="345.05" cy="1352.73" r="6.65"/><circle cx="364.05" cy="1357.77" r="6.65"/><circle cx="345.05" cy="1366.21" r="6.65"/></g>
<g fill="#cc9446"><circle cx="401.82" cy="1288.04" r="6.65"/><circle cx="401.82" cy="1312.3" r="6.65"/><circle cx="392.32" cy="1320.03" r="6.65"/><circle cx="411.32" cy="1319.13" r="6.65"/></g>
<path d="M118.35 1202V1517.3M99.15 1514H431.55" stroke="#000" stroke-width="6.6" fill="none"/>
<path d="M99.15 1436.83H118.35M99.15 1359.65H118.35M99.15 1282.47H118.35M99.15 1205.3H118.35" stroke="#000" stroke-width="6.6" fill="none"/>
<text x="95.75" y="1520.9" text-anchor="end">0.0</text>
<text x="95.75" y="1443.73" text-anchor="end">0.5</text>
<text x="95.75" y="1366.55" text-anchor="end">1.0</text>
<text x="95.75" y="1289.38" text-anchor="end">1.5</text>
<text x="95.75" y="1212.2" text-anchor="end">2.0</text>
<text x="279.25" y="1185.8" text-anchor="middle" xml:space="preserve"><tspan font-style="italic">Apoe</tspan> mRNA</text>
<line x1="151.67" y1="1276.18" x2="199.11" y2="1276.18" stroke="#000" stroke-width="2.9"/>
<text transform="translate(176.6 1271.48) scale(0.97 1)" text-anchor="middle" class="s">*</text>
<text x="159.25" y="1547.1" text-anchor="middle">-</text>
<text x="205.65" y="1547.1" text-anchor="middle">-</text>
<text x="254.35" y="1547.1" text-anchor="middle">+</text>
<text x="307.75" y="1547.1" text-anchor="middle">-</text>
<text x="354.45" y="1547.1" text-anchor="middle">-</text>
<text x="403.15" y="1547.1" text-anchor="middle">+</text>
<rect x="148.75" y="1561.05" width="24" height="5"/>
<rect x="194.65" y="1561.05" width="71" height="5"/>
<rect x="148.75" y="1609" width="119" height="5"/>
<text x="160.25" y="1592" text-anchor="middle">DMSO</text>
<text x="229.85" y="1592" text-anchor="middle">Doxo</text>
<rect x="297.55" y="1561.05" width="24" height="5"/>
<rect x="343.45" y="1561.05" width="71" height="5"/>
<rect x="297.55" y="1609" width="119" height="5"/>
<text x="309.05" y="1592" text-anchor="middle">DMSO</text>
<text x="378.65" y="1592" text-anchor="middle">Doxo</text>
<text x="204.35" y="1640.8" text-anchor="middle">Female</text>
<text x="354.65" y="1640.8" text-anchor="middle">Male</text>
<text transform="translate(17 1359.5) rotate(-90)" text-anchor="middle">Relative mRNA levels</text>
<text transform="translate(43.9 1359.5) rotate(-90)" text-anchor="middle">(normalized to <tspan font-style="italic">Actb</tspan> mRNA)</text>
</g>
<g id="c2">
<line x1="681.1" y1="1509.8" x2="681.1" y2="1207.25" stroke="#000" stroke-width="3.5" stroke-linecap="round" stroke-dasharray="6.3 9.4"/>
<path d="M559.78 1466.85V1485.36M551.83 1466.85H567.73M551.83 1485.36H567.73M544.08 1476.19H575.48" stroke="#a6a6a8" stroke-width="3" fill="none"/>
<path d="M607.04 1254.79V1342.85M599.09 1254.79H614.99M599.09 1342.85H614.99M591.34 1298.82H622.74" stroke="#d2d2d4" stroke-width="3" fill="none"/>
<path d="M654.12 1446.18V1484.82M646.17 1446.18H662.07M646.17 1484.82H662.07M638.42 1465.59H669.82" stroke="#d2d2d4" stroke-width="3" fill="none"/>
<path d="M709.47 1474.93V1477.81M701.52 1474.93H717.42M701.52 1477.81H717.42M693.77 1476.37H725.17" stroke="#a6a6a8" stroke-width="3" fill="none"/>
<path d="M756.91 1345.19V1390.11M748.96 1345.19H764.86M748.96 1390.11H764.86M741.21 1367.65H772.61" stroke="#d2d2d4" stroke-width="3" fill="none"/>
<path d="M804 1455.7V1483.56M796.05 1455.7H811.95M796.05 1483.56H811.95M788.3 1469.9H819.7" stroke="#d2d2d4" stroke-width="3" fill="none"/>
<g fill="#000000"><circle cx="569.28" cy="1464.69" r="6.65"/><circle cx="559.78" cy="1475.47" r="6.65"/><circle cx="569.28" cy="1477.09" r="6.65"/><circle cx="550.28" cy="1486.25" r="6.65"/></g>
<g fill="#880aa8"><circle cx="607.04" cy="1247.97" r="6.65"/><circle cx="607.04" cy="1282.65" r="6.65"/><circle cx="607.04" cy="1316.25" r="6.65"/><circle cx="607.04" cy="1349.5" r="6.65"/></g>
<g fill="#cc9446"><circle cx="654.12" cy="1448.88" r="6.65"/><circle cx="654.12" cy="1461.45" r="6.65"/><circle cx="654.12" cy="1486.61" r="6.65"/></g>
<g fill="#000000"><circle cx="699.97" cy="1477.09" r="6.65"/><circle cx="706.27" cy="1474.93" r="6.65"/><circle cx="712.67" cy="1477.09" r="6.65"/><circle cx="718.97" cy="1475.83" r="6.65"/></g>
<g fill="#880aa8"><circle cx="756.91" cy="1341.05" r="6.65"/><circle cx="756.91" cy="1357.77" r="6.65"/><circle cx="766.41" cy="1380.23" r="6.65"/><circle cx="747.41" cy="1391.91" r="6.65"/></g>
<g fill="#cc9446"><circle cx="804" cy="1449.77" r="6.65"/><circle cx="804" cy="1469.54" r="6.65"/><circle cx="813.5" cy="1477.09" r="6.65"/><circle cx="794.5" cy="1480.86" r="6.65"/></g>
<path d="M520.6 1202V1517.3M501.4 1514H833.8" stroke="#000" stroke-width="6.6" fill="none"/>
<path d="M501.4 1436.83H520.6M501.4 1359.65H520.6M501.4 1282.47H520.6M501.4 1205.3H520.6" stroke="#000" stroke-width="6.6" fill="none"/>
<text x="498" y="1520.9" text-anchor="end">0</text>
<text x="498" y="1443.73" text-anchor="end">2</text>
<text x="498" y="1366.55" text-anchor="end">4</text>
<text x="498" y="1289.38" text-anchor="end">6</text>
<text x="498" y="1212.2" text-anchor="end">8</text>
<text x="681.5" y="1185.8" text-anchor="middle" xml:space="preserve"><tspan font-style="italic">Lgals3</tspan>&#160;&#160;mRNA</text>
<line x1="554.03" y1="1233.23" x2="601.29" y2="1233.23" stroke="#000" stroke-width="2.9"/>
<text transform="translate(578.6 1228.53) scale(0.97 1)" text-anchor="middle" class="s">****</text>
<line x1="611.53" y1="1233.23" x2="658.79" y2="1233.23" stroke="#000" stroke-width="2.9"/>
<text transform="translate(636.47 1228.53) scale(0.97 1)" text-anchor="middle" class="s">***</text>
<line x1="704.44" y1="1304.75" x2="751.7" y2="1304.75" stroke="#000" stroke-width="2.9"/>
<text transform="translate(729.19 1300.05) scale(0.97 1)" text-anchor="middle" class="s">****</text>
<line x1="761.95" y1="1304.75" x2="809.21" y2="1304.75" stroke="#000" stroke-width="2.9"/>
<text transform="translate(786.7 1300.05) scale(0.97 1)" text-anchor="middle" class="s">****</text>
<text x="561.5" y="1547.1" text-anchor="middle">-</text>
<text x="607.9" y="1547.1" text-anchor="middle">-</text>
<text x="656.6" y="1547.1" text-anchor="middle">+</text>
<text x="710" y="1547.1" text-anchor="middle">-</text>
<text x="756.7" y="1547.1" text-anchor="middle">-</text>
<text x="805.4" y="1547.1" text-anchor="middle">+</text>
<rect x="551" y="1561.05" width="24" height="5"/>
<rect x="596.9" y="1561.05" width="71" height="5"/>
<rect x="551" y="1609" width="119" height="5"/>
<text x="562.5" y="1592" text-anchor="middle">DMSO</text>
<text x="632.1" y="1592" text-anchor="middle">Doxo</text>
<rect x="699.8" y="1561.05" width="24" height="5"/>
<rect x="745.7" y="1561.05" width="71" height="5"/>
<rect x="699.8" y="1609" width="119" height="5"/>
<text x="711.3" y="1592" text-anchor="middle">DMSO</text>
<text x="780.9" y="1592" text-anchor="middle">Doxo</text>
<text x="606.6" y="1640.8" text-anchor="middle">Female</text>
<text x="756.9" y="1640.8" text-anchor="middle">Male</text>
</g>
<g id="c3">
<line x1="1083.6" y1="1509.8" x2="1083.6" y2="1207.25" stroke="#000" stroke-width="3.5" stroke-linecap="round" stroke-dasharray="6.3 9.4"/>
<path d="M961.78 1456.96V1474.93M953.83 1456.96H969.73M953.83 1474.93H969.73M946.08 1465.95H977.48" stroke="#a6a6a8" stroke-width="3" fill="none"/>
<path d="M1009.04 1367.11V1414.73M1001.09 1367.11H1016.99M1001.09 1414.73H1016.99M993.34 1390.83H1024.74" stroke="#d2d2d4" stroke-width="3" fill="none"/>
<path d="M1056.12 1444.38V1476.01M1048.17 1444.38H1064.07M1048.17 1476.01H1064.07M1040.42 1460.2H1071.82" stroke="#d2d2d4" stroke-width="3" fill="none"/>
<path d="M1111.47 1452.83V1484.82M1103.52 1452.83H1119.42M1103.52 1484.82H1119.42M1095.77 1468.64H1127.17" stroke="#a6a6a8" stroke-width="3" fill="none"/>
<path d="M1158.91 1289.84V1346.44M1150.96 1289.84H1166.86M1150.96 1346.44H1166.86M1143.21 1318.23H1174.61" stroke="#d2d2d4" stroke-width="3" fill="none"/>
<path d="M1206 1456.96V1471.34M1198.05 1456.96H1213.95M1198.05 1471.34H1213.95M1190.3 1464.15H1221.7" stroke="#d2d2d4" stroke-width="3" fill="none"/>
<g fill="#000000"><circle cx="952.28" cy="1458.76" r="6.65"/><circle cx="971.28" cy="1457.5" r="6.65"/><circle cx="952.28" cy="1475.83" r="6.65"/><circle cx="971.28" cy="1471.34" r="6.65"/></g>
<g fill="#880aa8"><circle cx="1018.54" cy="1366.75" r="6.65"/><circle cx="999.54" cy="1378.43" r="6.65"/><circle cx="1009.04" cy="1398.2" r="6.65"/><circle cx="1009.04" cy="1421.38" r="6.65"/></g>
<g fill="#cc9446"><circle cx="1056.12" cy="1443.48" r="6.65"/><circle cx="1056.12" cy="1462.71" r="6.65"/><circle cx="1056.12" cy="1475.47" r="6.65"/></g>
<g fill="#000000"><circle cx="1111.47" cy="1444.74" r="6.65"/><circle cx="1111.47" cy="1474.03" r="6.65"/><circle cx="1120.97" cy="1475.83" r="6.65"/><circle cx="1101.97" cy="1479.96" r="6.65"/></g>
<g fill="#880aa8"><circle cx="1158.91" cy="1279.95" r="6.65"/><circle cx="1158.91" cy="1315.53" r="6.65"/><circle cx="1158.91" cy="1330.81" r="6.65"/><circle cx="1158.91" cy="1346.44" r="6.65"/></g>
<g fill="#cc9446"><circle cx="1196.5" cy="1456.42" r="6.65"/><circle cx="1206" cy="1461.81" r="6.65"/><circle cx="1215.5" cy="1463.25" r="6.65"/><circle cx="1196.5" cy="1474.03" r="6.65"/></g>
<path d="M922.6 1202V1517.3M903.4 1514H1235.8" stroke="#000" stroke-width="6.6" fill="none"/>
<path d="M903.4 1436.83H922.6M903.4 1359.65H922.6M903.4 1282.47H922.6M903.4 1205.3H922.6" stroke="#000" stroke-width="6.6" fill="none"/>
<text x="900" y="1520.9" text-anchor="end">0</text>
<text x="900" y="1443.73" text-anchor="end">2</text>
<text x="900" y="1366.55" text-anchor="end">4</text>
<text x="900" y="1289.38" text-anchor="end">6</text>
<text x="900" y="1212.2" text-anchor="end">8</text>
<text x="1083.5" y="1185.8" text-anchor="middle" xml:space="preserve"><tspan font-style="italic">Cst3</tspan> mRNA</text>
<line x1="956.03" y1="1344.29" x2="1003.29" y2="1344.29" stroke="#000" stroke-width="2.9"/>
<text transform="translate(980.96 1339.59) scale(0.97 1)" text-anchor="middle" class="s">***</text>
<line x1="1013.53" y1="1344.29" x2="1060.79" y2="1344.29" stroke="#000" stroke-width="2.9"/>
<text transform="translate(1038.11 1339.59) scale(0.97 1)" text-anchor="middle" class="s">**</text>
<line x1="1106.44" y1="1261.08" x2="1153.7" y2="1261.08" stroke="#000" stroke-width="2.9"/>
<text transform="translate(1131.19 1256.38) scale(0.97 1)" text-anchor="middle" class="s">****</text>
<line x1="1163.95" y1="1261.08" x2="1211.21" y2="1261.08" stroke="#000" stroke-width="2.9"/>
<text transform="translate(1188.7 1256.38) scale(0.97 1)" text-anchor="middle" class="s">****</text>
<text x="963.5" y="1547.1" text-anchor="middle">-</text>
<text x="1009.9" y="1547.1" text-anchor="middle">-</text>
<text x="1058.6" y="1547.1" text-anchor="middle">+</text>
<text x="1112" y="1547.1" text-anchor="middle">-</text>
<text x="1158.7" y="1547.1" text-anchor="middle">-</text>
<text x="1207.4" y="1547.1" text-anchor="middle">+</text>
<rect x="953" y="1561.05" width="24" height="5"/>
<rect x="998.9" y="1561.05" width="71" height="5"/>
<rect x="953" y="1609" width="119" height="5"/>
<text x="964.5" y="1592" text-anchor="middle">DMSO</text>
<text x="1034.1" y="1592" text-anchor="middle">Doxo</text>
<rect x="1101.8" y="1561.05" width="24" height="5"/>
<rect x="1147.7" y="1561.05" width="71" height="5"/>
<rect x="1101.8" y="1609" width="119" height="5"/>
<text x="1113.3" y="1592" text-anchor="middle">DMSO</text>
<text x="1182.9" y="1592" text-anchor="middle">Doxo</text>
<text x="1008.6" y="1640.8" text-anchor="middle">Female</text>
<text x="1158.9" y="1640.8" text-anchor="middle">Male</text>
</g>
<g id="c4">
<line x1="1485.6" y1="1509.8" x2="1485.6" y2="1207.25" stroke="#000" stroke-width="3.5" stroke-linecap="round" stroke-dasharray="6.3 9.4"/>
<path d="M1363.78 1366.21V1445.28M1355.83 1366.21H1371.73M1355.83 1445.28H1371.73M1348.08 1405.75H1379.48" stroke="#a6a6a8" stroke-width="3" fill="none"/>
<path d="M1411.04 1307.81V1404.31M1403.09 1307.81H1418.99M1403.09 1404.31H1418.99M1395.34 1355.97H1426.74" stroke="#d2d2d4" stroke-width="3" fill="none"/>
<path d="M1458.12 1381.85V1475.83M1450.17 1381.85H1466.07M1450.17 1475.83H1466.07M1442.42 1429.11H1473.82" stroke="#d2d2d4" stroke-width="3" fill="none"/>
<path d="M1513.47 1389.21V1439.89M1505.52 1389.21H1521.42M1505.52 1439.89H1521.42M1497.77 1414.37H1529.17" stroke="#a6a6a8" stroke-width="3" fill="none"/>
<path d="M1560.91 1337.46V1461.1M1552.96 1337.46H1568.86M1552.96 1461.1H1568.86M1545.21 1399.46H1576.61" stroke="#d2d2d4" stroke-width="3" fill="none"/>
<path d="M1608 1311.94V1471.7M1600.05 1311.94H1615.95M1600.05 1471.7H1615.95M1592.3 1391.73H1623.7" stroke="#d2d2d4" stroke-width="3" fill="none"/>
<g fill="#000000"><circle cx="1363.78" cy="1350.58" r="6.65"/><circle cx="1354.28" cy="1411.14" r="6.65"/><circle cx="1373.28" cy="1417.79" r="6.65"/><circle cx="1363.78" cy="1444.92" r="6.65"/></g>
<g fill="#880aa8"><circle cx="1411.04" cy="1290.74" r="6.65"/><circle cx="1401.54" cy="1358.12" r="6.65"/><circle cx="1420.54" cy="1368.01" r="6.65"/><circle cx="1411.04" cy="1406.64" r="6.65"/></g>
<g fill="#cc9446"><circle cx="1458.12" cy="1374.84" r="6.65"/><circle cx="1467.62" cy="1450.67" r="6.65"/><circle cx="1448.62" cy="1461.45" r="6.65"/></g>
<g fill="#000000"><circle cx="1513.47" cy="1389.21" r="6.65"/><circle cx="1503.97" cy="1407.18" r="6.65"/><circle cx="1522.97" cy="1411.14" r="6.65"/><circle cx="1513.47" cy="1449.77" r="6.65"/></g>
<g fill="#880aa8"><circle cx="1560.91" cy="1311.04" r="6.65"/><circle cx="1560.91" cy="1403.05" r="6.65"/><circle cx="1560.91" cy="1435.4" r="6.65"/><circle cx="1560.91" cy="1448.88" r="6.65"/></g>
<g fill="#cc9446"><circle cx="1608" cy="1271.87" r="6.65"/><circle cx="1598.5" cy="1433.24" r="6.65"/><circle cx="1608" cy="1431.44" r="6.65"/><circle cx="1617.5" cy="1431.8" r="6.65"/></g>
<path d="M1324.6 1202V1517.3M1305.4 1514H1637.8" stroke="#000" stroke-width="6.6" fill="none"/>
<path d="M1305.4 1411.1H1324.6M1305.4 1308.2H1324.6M1305.4 1205.3H1324.6" stroke="#000" stroke-width="6.6" fill="none"/>
<text x="1302" y="1520.9" text-anchor="end">0</text>
<text x="1302" y="1418" text-anchor="end">1</text>
<text x="1302" y="1315.1" text-anchor="end">2</text>
<text x="1302" y="1212.2" text-anchor="end">3</text>
<text x="1485.5" y="1185.8" text-anchor="middle" xml:space="preserve"><tspan font-style="italic">Tnfrsf11b</tspan> mRNA</text>
<text x="1365.5" y="1547.1" text-anchor="middle">-</text>
<text x="1411.9" y="1547.1" text-anchor="middle">-</text>
<text x="1460.6" y="1547.1" text-anchor="middle">+</text>
<text x="1514" y="1547.1" text-anchor="middle">-</text>
<text x="1560.7" y="1547.1" text-anchor="middle">-</text>
<text x="1609.4" y="1547.1" text-anchor="middle">+</text>
<rect x="1355" y="1561.05" width="24" height="5"/>
<rect x="1400.9" y="1561.05" width="71" height="5"/>
<rect x="1355" y="1609" width="119" height="5"/>
<text x="1366.5" y="1592" text-anchor="middle">DMSO</text>
<text x="1436.1" y="1592" text-anchor="middle">Doxo</text>
<rect x="1503.8" y="1561.05" width="24" height="5"/>
<rect x="1549.7" y="1561.05" width="71" height="5"/>
<rect x="1503.8" y="1609" width="119" height="5"/>
<text x="1515.3" y="1592" text-anchor="middle">DMSO</text>
<text x="1584.9" y="1592" text-anchor="middle">Doxo</text>
<text x="1410.6" y="1640.8" text-anchor="middle">Female</text>
<text x="1560.9" y="1640.8" text-anchor="middle">Male</text>
</g>
<g id="c5">
<line x1="1887.3" y1="1510" x2="1887.3" y2="1207.45" stroke="#000" stroke-width="3.5" stroke-linecap="round" stroke-dasharray="6.3 9.4"/>
<path d="M1765.42 1473.14V1481.58M1757.47 1473.14H1773.37M1757.47 1481.58H1773.37M1749.72 1477.27H1781.12" stroke="#a6a6a8" stroke-width="3" fill="none"/>
<path d="M1813.04 1269.53V1294.33M1805.09 1269.53H1820.99M1805.09 1294.33H1820.99M1797.34 1282.11H1828.74" stroke="#d2d2d4" stroke-width="3" fill="none"/>
<path d="M1859.76 1442.23V1493.8M1851.81 1442.23H1867.71M1851.81 1493.8H1867.71M1844.06 1468.1H1875.46" stroke="#d2d2d4" stroke-width="3" fill="none"/>
<path d="M1915.11 1464.15V1489.31M1907.16 1464.15H1923.06M1907.16 1489.31H1923.06M1899.41 1476.73H1930.81" stroke="#a6a6a8" stroke-width="3" fill="none"/>
<path d="M1962.55 1285.34V1441.15M1954.6 1285.34H1970.5M1954.6 1441.15H1970.5M1946.85 1363.16H1978.25" stroke="#d2d2d4" stroke-width="3" fill="none"/>
<path d="M2009.82 1452.11V1480.32M2001.87 1452.11H2017.77M2001.87 1480.32H2017.77M1994.12 1466.31H2025.52" stroke="#d2d2d4" stroke-width="3" fill="none"/>
<g fill="#000000"><circle cx="1755.92" cy="1471.88" r="6.65"/><circle cx="1774.92" cy="1475.47" r="6.65"/><circle cx="1768.62" cy="1477.27" r="6.65"/><circle cx="1755.92" cy="1484.28" r="6.65"/></g>
<g fill="#880aa8"><circle cx="1803.54" cy="1268.63" r="6.65"/><circle cx="1813.04" cy="1280.85" r="6.65"/><circle cx="1822.54" cy="1280.49" r="6.65"/><circle cx="1813.04" cy="1298.28" r="6.65"/></g>
<g fill="#cc9446"><circle cx="1859.76" cy="1439.89" r="6.65"/><circle cx="1859.76" cy="1473.67" r="6.65"/><circle cx="1859.76" cy="1490.75" r="6.65"/></g>
<g fill="#000000"><circle cx="1905.61" cy="1462.71" r="6.65"/><circle cx="1915.11" cy="1474.93" r="6.65"/><circle cx="1924.61" cy="1474.03" r="6.65"/><circle cx="1915.11" cy="1494.34" r="6.65"/></g>
<g fill="#880aa8"><circle cx="1962.55" cy="1247.61" r="6.65"/><circle cx="1962.55" cy="1387.78" r="6.65"/><circle cx="1962.55" cy="1400.89" r="6.65"/><circle cx="1962.55" cy="1416.53" r="6.65"/></g>
<g fill="#cc9446"><circle cx="2019.32" cy="1452.47" r="6.65"/><circle cx="2000.32" cy="1460.02" r="6.65"/><circle cx="2019.32" cy="1469.54" r="6.65"/><circle cx="2009.82" cy="1485.18" r="6.65"/></g>
<path d="M1726.3 1202.2V1517.5M1707.1 1514.2H2039.5" stroke="#000" stroke-width="6.6" fill="none"/>
<path d="M1707.1 1437.03H1726.3M1707.1 1359.85H1726.3M1707.1 1282.68H1726.3M1707.1 1205.5H1726.3" stroke="#000" stroke-width="6.6" fill="none"/>
<text x="1703.7" y="1521.1" text-anchor="end">0</text>
<text x="1703.7" y="1443.93" text-anchor="end">2</text>
<text x="1703.7" y="1366.75" text-anchor="end">4</text>
<text x="1703.7" y="1289.58" text-anchor="end">6</text>
<text x="1703.7" y="1212.4" text-anchor="end">8</text>
<text x="1887.2" y="1186" text-anchor="middle" xml:space="preserve"><tspan font-style="italic">Prg4</tspan> mRNA</text>
<line x1="1759.67" y1="1242.58" x2="1806.75" y2="1242.58" stroke="#000" stroke-width="2.9"/>
<text transform="translate(1784.6 1237.88) scale(0.97 1)" text-anchor="middle" class="s">****</text>
<line x1="1817.17" y1="1242.58" x2="1864.62" y2="1242.58" stroke="#000" stroke-width="2.9"/>
<text transform="translate(1842.47 1237.88) scale(0.97 1)" text-anchor="middle" class="s">****</text>
<line x1="1910.08" y1="1229.1" x2="1957.34" y2="1229.1" stroke="#000" stroke-width="2.9"/>
<text transform="translate(1934.65 1224.4) scale(0.97 1)" text-anchor="middle" class="s">*</text>
<line x1="1967.23" y1="1229.1" x2="2014.85" y2="1229.1" stroke="#000" stroke-width="2.9"/>
<text transform="translate(1992.7 1224.4) scale(0.97 1)" text-anchor="middle" class="s">*</text>
<text x="1767.2" y="1547.3" text-anchor="middle">-</text>
<text x="1813.6" y="1547.3" text-anchor="middle">-</text>
<text x="1862.3" y="1547.3" text-anchor="middle">+</text>
<text x="1915.7" y="1547.3" text-anchor="middle">-</text>
<text x="1962.4" y="1547.3" text-anchor="middle">-</text>
<text x="2011.1" y="1547.3" text-anchor="middle">+</text>
<rect x="1756.7" y="1561.25" width="24" height="5"/>
<rect x="1802.6" y="1561.25" width="71" height="5"/>
<rect x="1756.7" y="1609.2" width="119" height="5"/>
<text x="1768.2" y="1592.2" text-anchor="middle">DMSO</text>
<text x="1837.8" y="1592.2" text-anchor="middle">Doxo</text>
<rect x="1905.5" y="1561.25" width="24" height="5"/>
<rect x="1951.4" y="1561.25" width="71" height="5"/>
<rect x="1905.5" y="1609.2" width="119" height="5"/>
<text x="1917" y="1592.2" text-anchor="middle">DMSO</text>
<text x="1986.6" y="1592.2" text-anchor="middle">Doxo</text>
<text x="1812.3" y="1641" text-anchor="middle">Female</text>
<text x="1962.6" y="1641" text-anchor="middle">Male</text>
<text x="2051.7" y="1547">ABT-737</text>
</g>
<g id="d1">
<line x1="279.35" y1="2086.65" x2="279.35" y2="1784.1" stroke="#000" stroke-width="3.5" stroke-linecap="round" stroke-dasharray="6.3 9.4"/>
<path d="M157.78 2019.59V2047.98M149.83 2019.59H165.73M149.83 2047.98H165.73M142.08 2033.96H173.48" stroke="#a6a6a8" stroke-width="3" fill="none"/>
<path d="M205.04 1867.74V1910.86M197.09 1867.74H212.99M197.09 1910.86H212.99M189.34 1889.3H220.74" stroke="#d2d2d4" stroke-width="3" fill="none"/>
<path d="M252.12 2032.16V2058.58M244.17 2032.16H260.07M244.17 2058.58H260.07M236.42 2045.64H267.82" stroke="#d2d2d4" stroke-width="3" fill="none"/>
<path d="M307.47 2031.81V2053.73M299.52 2031.81H315.42M299.52 2053.73H315.42M291.77 2042.41H323.17" stroke="#a6a6a8" stroke-width="3" fill="none"/>
<path d="M354.91 1897.03V1952.2M346.96 1897.03H362.86M346.96 1952.2H362.86M339.21 1924.88H370.61" stroke="#d2d2d4" stroke-width="3" fill="none"/>
<path d="M401.82 2032.16V2056.42M393.87 2032.16H409.77M393.87 2056.42H409.77M386.12 2044.21H417.52" stroke="#d2d2d4" stroke-width="3" fill="none"/>
<g fill="#000000"><circle cx="148.28" cy="2024.98" r="6.65"/><circle cx="167.28" cy="2021.74" r="6.65"/><circle cx="167.28" cy="2037.02" r="6.65"/><circle cx="157.78" cy="2052.83" r="6.65"/></g>
<g fill="#880aa8"><circle cx="205.04" cy="1865.04" r="6.65"/><circle cx="195.54" cy="1884.45" r="6.65"/><circle cx="214.54" cy="1890.74" r="6.65"/><circle cx="205.04" cy="1917.15" r="6.65"/></g>
<g fill="#cc9446"><circle cx="252.12" cy="2031.27" r="6.65"/><circle cx="261.62" cy="2047.8" r="6.65"/><circle cx="242.62" cy="2056.96" r="6.65"/></g>
<g fill="#000000"><circle cx="307.47" cy="2027.67" r="6.65"/><circle cx="307.47" cy="2040.61" r="6.65"/><circle cx="316.97" cy="2048.88" r="6.65"/><circle cx="297.97" cy="2052.47" r="6.65"/></g>
<g fill="#880aa8"><circle cx="354.91" cy="1884.45" r="6.65"/><circle cx="345.41" cy="1932.43" r="6.65"/><circle cx="364.41" cy="1932.97" r="6.65"/><circle cx="354.91" cy="1949.5" r="6.65"/></g>
<g fill="#cc9446"><circle cx="401.82" cy="2028.57" r="6.65"/><circle cx="392.32" cy="2042.41" r="6.65"/><circle cx="411.32" cy="2047.44" r="6.65"/><circle cx="392.32" cy="2057.86" r="6.65"/></g>
<path d="M118.35 1778.85V2094.15M99.15 2090.85H431.55" stroke="#000" stroke-width="6.6" fill="none"/>
<path d="M99.15 2013.67H118.35M99.15 1936.5H118.35M99.15 1859.32H118.35M99.15 1782.15H118.35" stroke="#000" stroke-width="6.6" fill="none"/>
<text x="95.75" y="2097.75" text-anchor="end">0</text>
<text x="95.75" y="2020.58" text-anchor="end">2</text>
<text x="95.75" y="1943.4" text-anchor="end">4</text>
<text x="95.75" y="1866.22" text-anchor="end">6</text>
<text x="95.75" y="1789.05" text-anchor="end">8</text>
<text x="279.25" y="1762.65" text-anchor="middle" xml:space="preserve"><tspan font-style="italic">Mmp3</tspan> mRNA</text>
<line x1="152.03" y1="1843.48" x2="199.29" y2="1843.48" stroke="#000" stroke-width="2.9"/>
<text transform="translate(176.6 1838.78) scale(0.97 1)" text-anchor="middle" class="s">****</text>
<line x1="209.53" y1="1843.48" x2="256.79" y2="1843.48" stroke="#000" stroke-width="2.9"/>
<text transform="translate(234.47 1838.78) scale(0.97 1)" text-anchor="middle" class="s">****</text>
<line x1="302.44" y1="1865.04" x2="349.7" y2="1865.04" stroke="#000" stroke-width="2.9"/>
<text transform="translate(327.19 1860.34) scale(0.97 1)" text-anchor="middle" class="s">****</text>
<line x1="359.95" y1="1865.04" x2="407.21" y2="1865.04" stroke="#000" stroke-width="2.9"/>
<text transform="translate(384.7 1860.34) scale(0.97 1)" text-anchor="middle" class="s">****</text>
<text x="159.25" y="2123.95" text-anchor="middle">-</text>
<text x="205.65" y="2123.95" text-anchor="middle">-</text>
<text x="254.35" y="2123.95" text-anchor="middle">+</text>
<text x="307.75" y="2123.95" text-anchor="middle">-</text>
<text x="354.45" y="2123.95" text-anchor="middle">-</text>
<text x="403.15" y="2123.95" text-anchor="middle">+</text>
<rect x="148.75" y="2137.9" width="24" height="5"/>
<rect x="194.65" y="2137.9" width="71" height="5"/>
<rect x="148.75" y="2185.85" width="119" height="5"/>
<text x="160.25" y="2168.85" text-anchor="middle">DMSO</text>
<text x="229.85" y="2168.85" text-anchor="middle">Doxo</text>
<rect x="297.55" y="2137.9" width="24" height="5"/>
<rect x="343.45" y="2137.9" width="71" height="5"/>
<rect x="297.55" y="2185.85" width="119" height="5"/>
<text x="309.05" y="2168.85" text-anchor="middle">DMSO</text>
<text x="378.65" y="2168.85" text-anchor="middle">Doxo</text>
<text x="204.35" y="2217.65" text-anchor="middle">Female</text>
<text x="354.65" y="2217.65" text-anchor="middle">Male</text>
<text transform="translate(34.75 1937.05) rotate(-90)" text-anchor="middle">Relative mRNA levels</text>
<text transform="translate(62 1937.05) rotate(-90)" text-anchor="middle">(normalized to <tspan font-style="italic">Actb</tspan> mRNA)</text>
</g>
<g id="d2">
<line x1="681.7" y1="2086.6" x2="681.7" y2="1784.05" stroke="#000" stroke-width="3.5" stroke-linecap="round" stroke-dasharray="6.3 9.4"/>
<path d="M560.32 2032.16V2054.09M552.37 2032.16H568.27M552.37 2054.09H568.27M544.62 2042.95H576.02" stroke="#a6a6a8" stroke-width="3" fill="none"/>
<path d="M607.58 1886.6V1965.67M599.63 1886.6H615.53M599.63 1965.67H615.53M591.88 1926.14H623.28" stroke="#d2d2d4" stroke-width="3" fill="none"/>
<path d="M654.66 2016.89V2055.53M646.71 2016.89H662.61M646.71 2055.53H662.61M638.96 2036.3H670.36" stroke="#d2d2d4" stroke-width="3" fill="none"/>
<path d="M710.01 2030.37V2063.25M702.06 2030.37H717.96M702.06 2063.25H717.96M694.31 2047.08H725.71" stroke="#a6a6a8" stroke-width="3" fill="none"/>
<path d="M757.45 1909.97V1997.12M749.5 1909.97H765.4M749.5 1997.12H765.4M741.75 1953.45H773.15" stroke="#d2d2d4" stroke-width="3" fill="none"/>
<path d="M804.36 2027.67V2046.9M796.41 2027.67H812.31M796.41 2046.9H812.31M788.66 2037.2H820.06" stroke="#d2d2d4" stroke-width="3" fill="none"/>
<g fill="#000000"><circle cx="550.82" cy="2035.4" r="6.65"/><circle cx="569.82" cy="2032.7" r="6.65"/><circle cx="550.82" cy="2052.83" r="6.65"/><circle cx="569.82" cy="2052.47" r="6.65"/></g>
<g fill="#880aa8"><circle cx="607.58" cy="1870.07" r="6.65"/><circle cx="607.58" cy="1928.48" r="6.65"/><circle cx="617.08" cy="1946.81" r="6.65"/><circle cx="598.08" cy="1958.85" r="6.65"/></g>
<g fill="#cc9446"><circle cx="654.66" cy="2016.35" r="6.65"/><circle cx="654.66" cy="2037.56" r="6.65"/><circle cx="654.66" cy="2054.27" r="6.65"/></g>
<g fill="#000000"><circle cx="710.01" cy="2023.18" r="6.65"/><circle cx="710.01" cy="2049.78" r="6.65"/><circle cx="719.51" cy="2052.47" r="6.65"/><circle cx="700.51" cy="2062.36" r="6.65"/></g>
<g fill="#880aa8"><circle cx="757.45" cy="1901.88" r="6.65"/><circle cx="757.45" cy="1934.23" r="6.65"/><circle cx="747.95" cy="1989.4" r="6.65"/><circle cx="766.95" cy="1989.04" r="6.65"/></g>
<g fill="#cc9446"><circle cx="804.36" cy="2022.64" r="6.65"/><circle cx="804.36" cy="2040.61" r="6.65"/><circle cx="794.86" cy="2044.38" r="6.65"/><circle cx="813.86" cy="2042.41" r="6.65"/></g>
<path d="M520.7 1778.8V2094.1M501.5 2090.8H833.9" stroke="#000" stroke-width="6.6" fill="none"/>
<path d="M501.5 2013.63H520.7M501.5 1936.45H520.7M501.5 1859.28H520.7M501.5 1782.1H520.7" stroke="#000" stroke-width="6.6" fill="none"/>
<text x="498.1" y="2097.7" text-anchor="end">0</text>
<text x="498.1" y="2020.53" text-anchor="end">2</text>
<text x="498.1" y="1943.35" text-anchor="end">4</text>
<text x="498.1" y="1866.18" text-anchor="end">6</text>
<text x="498.1" y="1789" text-anchor="end">8</text>
<text x="681.6" y="1762.6" text-anchor="middle" xml:space="preserve"><tspan font-style="italic">Ctss</tspan> mRNA</text>
<line x1="554.57" y1="1841.14" x2="601.65" y2="1841.14" stroke="#000" stroke-width="2.9"/>
<text transform="translate(579.14 1836.44) scale(0.97 1)" text-anchor="middle" class="s">***</text>
<line x1="612.07" y1="1841.14" x2="659.15" y2="1841.14" stroke="#000" stroke-width="2.9"/>
<text transform="translate(636.65 1836.44) scale(0.97 1)" text-anchor="middle" class="s">**</text>
<line x1="704.98" y1="1881.75" x2="752.06" y2="1881.75" stroke="#000" stroke-width="2.9"/>
<text transform="translate(729.55 1877.05) scale(0.97 1)" text-anchor="middle" class="s">**</text>
<line x1="762.12" y1="1881.75" x2="809.57" y2="1881.75" stroke="#000" stroke-width="2.9"/>
<text transform="translate(787.06 1877.05) scale(0.97 1)" text-anchor="middle" class="s">**</text>
<text x="561.6" y="2123.9" text-anchor="middle">-</text>
<text x="608" y="2123.9" text-anchor="middle">-</text>
<text x="656.7" y="2123.9" text-anchor="middle">+</text>
<text x="710.1" y="2123.9" text-anchor="middle">-</text>
<text x="756.8" y="2123.9" text-anchor="middle">-</text>
<text x="805.5" y="2123.9" text-anchor="middle">+</text>
<rect x="551.1" y="2137.85" width="24" height="5"/>
<rect x="597" y="2137.85" width="71" height="5"/>
<rect x="551.1" y="2185.8" width="119" height="5"/>
<text x="562.6" y="2168.8" text-anchor="middle">DMSO</text>
<text x="632.2" y="2168.8" text-anchor="middle">Doxo</text>
<rect x="699.9" y="2137.85" width="24" height="5"/>
<rect x="745.8" y="2137.85" width="71" height="5"/>
<rect x="699.9" y="2185.8" width="119" height="5"/>
<text x="711.4" y="2168.8" text-anchor="middle">DMSO</text>
<text x="781" y="2168.8" text-anchor="middle">Doxo</text>
<text x="606.7" y="2217.6" text-anchor="middle">Female</text>
<text x="757" y="2217.6" text-anchor="middle">Male</text>
</g>
<g id="d3">
<line x1="1084.3" y1="2086.65" x2="1084.3" y2="1784.1" stroke="#000" stroke-width="3.5" stroke-linecap="round" stroke-dasharray="6.3 9.4"/>
<path d="M962.68 2017.43V2053.73M954.73 2017.43H970.63M954.73 2053.73H970.63M946.98 2035.76H978.38" stroke="#a6a6a8" stroke-width="3" fill="none"/>
<path d="M1009.94 1846.53V1893.79M1001.99 1846.53H1017.89M1001.99 1893.79H1017.89M994.24 1870.07H1025.64" stroke="#d2d2d4" stroke-width="3" fill="none"/>
<path d="M1057.2 2026.77V2041.51M1049.25 2026.77H1065.15M1049.25 2041.51H1065.15M1041.5 2033.96H1072.9" stroke="#d2d2d4" stroke-width="3" fill="none"/>
<path d="M1112.37 2048.34V2055.17M1104.42 2048.34H1120.32M1104.42 2055.17H1120.32M1096.67 2051.57H1128.07" stroke="#a6a6a8" stroke-width="3" fill="none"/>
<path d="M1159.63 1887.14V1930.63M1151.68 1887.14H1167.58M1151.68 1930.63H1167.58M1143.93 1908.71H1175.33" stroke="#d2d2d4" stroke-width="3" fill="none"/>
<path d="M1206.71 2017.79V2068.11M1198.76 2017.79H1214.66M1198.76 2068.11H1214.66M1191.01 2042.95H1222.41" stroke="#d2d2d4" stroke-width="3" fill="none"/>
<g fill="#000000"><circle cx="962.68" cy="2008.8" r="6.65"/><circle cx="962.68" cy="2038.45" r="6.65"/><circle cx="953.18" cy="2047.44" r="6.65"/><circle cx="972.18" cy="2046.9" r="6.65"/></g>
<g fill="#880aa8"><circle cx="1000.44" cy="1854.8" r="6.65"/><circle cx="1019.44" cy="1857.49" r="6.65"/><circle cx="1009.94" cy="1862.34" r="6.65"/><circle cx="1009.94" cy="1905.47" r="6.65"/></g>
<g fill="#cc9446"><circle cx="1047.7" cy="2028.57" r="6.65"/><circle cx="1066.7" cy="2031.63" r="6.65"/><circle cx="1047.7" cy="2042.05" r="6.65"/></g>
<g fill="#000000"><circle cx="1109.17" cy="2046.9" r="6.65"/><circle cx="1121.87" cy="2050.49" r="6.65"/><circle cx="1115.57" cy="2053.73" r="6.65"/><circle cx="1102.87" cy="2056.78" r="6.65"/></g>
<g fill="#880aa8"><circle cx="1159.63" cy="1882.65" r="6.65"/><circle cx="1159.63" cy="1899.72" r="6.65"/><circle cx="1169.13" cy="1922.19" r="6.65"/><circle cx="1150.13" cy="1930.09" r="6.65"/></g>
<g fill="#cc9446"><circle cx="1206.71" cy="2007.37" r="6.65"/><circle cx="1197.21" cy="2047.8" r="6.65"/><circle cx="1216.21" cy="2049.78" r="6.65"/><circle cx="1206.71" cy="2066.67" r="6.65"/></g>
<path d="M923.3 1778.85V2094.15M904.1 2090.85H1236.5" stroke="#000" stroke-width="6.6" fill="none"/>
<path d="M904.1 2046.75H923.3M904.1 2002.65H923.3M904.1 1958.55H923.3M904.1 1914.45H923.3M904.1 1870.35H923.3M904.1 1826.25H923.3M904.1 1782.15H923.3" stroke="#000" stroke-width="6.6" fill="none"/>
<text x="900.7" y="2097.75" text-anchor="end">0</text>
<text x="900.7" y="2053.65" text-anchor="end">1</text>
<text x="900.7" y="2009.55" text-anchor="end">2</text>
<text x="900.7" y="1965.45" text-anchor="end">3</text>
<text x="900.7" y="1921.35" text-anchor="end">4</text>
<text x="900.7" y="1877.25" text-anchor="end">5</text>
<text x="900.7" y="1833.15" text-anchor="end">6</text>
<text x="900.7" y="1789.05" text-anchor="end">7</text>
<text x="1084.2" y="1762.65" text-anchor="middle" xml:space="preserve"><tspan font-style="italic">Lcp1</tspan> mRNA</text>
<line x1="956.57" y1="1822.27" x2="1004.01" y2="1822.27" stroke="#000" stroke-width="2.9"/>
<text transform="translate(981.5 1817.57) scale(0.97 1)" text-anchor="middle" class="s">****</text>
<line x1="1014.07" y1="1822.27" x2="1061.51" y2="1822.27" stroke="#000" stroke-width="2.9"/>
<text transform="translate(1039 1817.57) scale(0.97 1)" text-anchor="middle" class="s">****</text>
<line x1="1107.34" y1="1857.31" x2="1154.6" y2="1857.31" stroke="#000" stroke-width="2.9"/>
<text transform="translate(1131.91 1852.61) scale(0.97 1)" text-anchor="middle" class="s">****</text>
<line x1="1164.48" y1="1857.31" x2="1211.75" y2="1857.31" stroke="#000" stroke-width="2.9"/>
<text transform="translate(1189.42 1852.61) scale(0.97 1)" text-anchor="middle" class="s">****</text>
<text x="964.2" y="2123.95" text-anchor="middle">-</text>
<text x="1010.6" y="2123.95" text-anchor="middle">-</text>
<text x="1059.3" y="2123.95" text-anchor="middle">+</text>
<text x="1112.7" y="2123.95" text-anchor="middle">-</text>
<text x="1159.4" y="2123.95" text-anchor="middle">-</text>
<text x="1208.1" y="2123.95" text-anchor="middle">+</text>
<rect x="953.7" y="2137.9" width="24" height="5"/>
<rect x="999.6" y="2137.9" width="71" height="5"/>
<rect x="953.7" y="2185.85" width="119" height="5"/>
<text x="965.2" y="2168.85" text-anchor="middle">DMSO</text>
<text x="1034.8" y="2168.85" text-anchor="middle">Doxo</text>
<rect x="1102.5" y="2137.9" width="24" height="5"/>
<rect x="1148.4" y="2137.9" width="71" height="5"/>
<rect x="1102.5" y="2185.85" width="119" height="5"/>
<text x="1114" y="2168.85" text-anchor="middle">DMSO</text>
<text x="1183.6" y="2168.85" text-anchor="middle">Doxo</text>
<text x="1009.3" y="2217.65" text-anchor="middle">Female</text>
<text x="1159.6" y="2217.65" text-anchor="middle">Male</text>
</g>
<g id="d4">
<line x1="1487.3" y1="2086.65" x2="1487.3" y2="1784.1" stroke="#000" stroke-width="3.5" stroke-linecap="round" stroke-dasharray="6.3 9.4"/>
<path d="M1365.58 1991.73V2037.02M1357.63 1991.73H1373.53M1357.63 2037.02H1373.53M1349.88 2014.19H1381.28" stroke="#a6a6a8" stroke-width="3" fill="none"/>
<path d="M1412.84 1843.48V1921.65M1404.89 1843.48H1420.79M1404.89 1921.65H1420.79M1397.14 1882.65H1428.54" stroke="#d2d2d4" stroke-width="3" fill="none"/>
<path d="M1460.1 1975.02V2011.14M1452.15 1975.02H1468.05M1452.15 2011.14H1468.05M1444.4 1993.17H1475.8" stroke="#d2d2d4" stroke-width="3" fill="none"/>
<path d="M1515.27 1997.12V2046.54M1507.32 1997.12H1523.22M1507.32 2046.54H1523.22M1499.57 2021.92H1530.97" stroke="#a6a6a8" stroke-width="3" fill="none"/>
<path d="M1562.53 1886.6V1968.01M1554.58 1886.6H1570.48M1554.58 1968.01H1570.48M1546.83 1927.22H1578.23" stroke="#d2d2d4" stroke-width="3" fill="none"/>
<path d="M1609.61 2006.47V2029.47M1601.66 2006.47H1617.56M1601.66 2029.47H1617.56M1593.91 2017.79H1625.31" stroke="#d2d2d4" stroke-width="3" fill="none"/>
<g fill="#000000"><circle cx="1365.58" cy="1986.88" r="6.65"/><circle cx="1365.58" cy="2004.85" r="6.65"/><circle cx="1375.08" cy="2028.93" r="6.65"/><circle cx="1356.08" cy="2036.66" r="6.65"/></g>
<g fill="#880aa8"><circle cx="1422.34" cy="1851.02" r="6.65"/><circle cx="1403.34" cy="1862.34" r="6.65"/><circle cx="1412.84" cy="1879.42" r="6.65"/><circle cx="1412.84" cy="1938.72" r="6.65"/></g>
<g fill="#cc9446"><circle cx="1460.1" cy="1975.02" r="6.65"/><circle cx="1460.1" cy="1994.79" r="6.65"/><circle cx="1460.1" cy="2011.14" r="6.65"/></g>
<g fill="#000000"><circle cx="1515.27" cy="1995.33" r="6.65"/><circle cx="1515.27" cy="2011.14" r="6.65"/><circle cx="1515.27" cy="2029.47" r="6.65"/><circle cx="1515.27" cy="2052.83" r="6.65"/></g>
<g fill="#880aa8"><circle cx="1562.53" cy="1886.6" r="6.65"/><circle cx="1562.53" cy="1899.72" r="6.65"/><circle cx="1562.53" cy="1949.5" r="6.65"/><circle cx="1562.53" cy="1974.66" r="6.65"/></g>
<g fill="#cc9446"><circle cx="1619.11" cy="2003.95" r="6.65"/><circle cx="1600.11" cy="2015.09" r="6.65"/><circle cx="1619.11" cy="2022.28" r="6.65"/><circle cx="1600.11" cy="2029.83" r="6.65"/></g>
<path d="M1326.3 1778.85V2094.15M1307.1 2090.85H1639.5" stroke="#000" stroke-width="6.6" fill="none"/>
<path d="M1307.1 2029.11H1326.3M1307.1 1967.37H1326.3M1307.1 1905.63H1326.3M1307.1 1843.89H1326.3M1307.1 1782.15H1326.3" stroke="#000" stroke-width="6.6" fill="none"/>
<text x="1303.7" y="2097.75" text-anchor="end">0</text>
<text x="1303.7" y="2036.01" text-anchor="end">1</text>
<text x="1303.7" y="1974.27" text-anchor="end">2</text>
<text x="1303.7" y="1912.53" text-anchor="end">3</text>
<text x="1303.7" y="1850.79" text-anchor="end">4</text>
<text x="1303.7" y="1789.05" text-anchor="end">5</text>
<text x="1487.2" y="1762.65" text-anchor="middle" xml:space="preserve"><tspan font-style="italic">Comp</tspan> mRNA</text>
<line x1="1359.47" y1="1822.27" x2="1406.91" y2="1822.27" stroke="#000" stroke-width="2.9"/>
<text transform="translate(1384.4 1817.57) scale(0.97 1)" text-anchor="middle" class="s">***</text>
<line x1="1416.97" y1="1822.27" x2="1464.41" y2="1822.27" stroke="#000" stroke-width="2.9"/>
<text transform="translate(1442.26 1817.57) scale(0.97 1)" text-anchor="middle" class="s">**</text>
<line x1="1509.88" y1="1857.31" x2="1557.14" y2="1857.31" stroke="#000" stroke-width="2.9"/>
<text transform="translate(1534.81 1852.61) scale(0.97 1)" text-anchor="middle" class="s">**</text>
<line x1="1567.38" y1="1857.31" x2="1614.64" y2="1857.31" stroke="#000" stroke-width="2.9"/>
<text transform="translate(1592.5 1852.61) scale(0.97 1)" text-anchor="middle" class="s">**</text>
<text x="1367.2" y="2123.95" text-anchor="middle">-</text>
<text x="1413.6" y="2123.95" text-anchor="middle">-</text>
<text x="1462.3" y="2123.95" text-anchor="middle">+</text>
<text x="1515.7" y="2123.95" text-anchor="middle">-</text>
<text x="1562.4" y="2123.95" text-anchor="middle">-</text>
<text x="1611.1" y="2123.95" text-anchor="middle">+</text>
<rect x="1356.7" y="2137.9" width="24" height="5"/>
<rect x="1402.6" y="2137.9" width="71" height="5"/>
<rect x="1356.7" y="2185.85" width="119" height="5"/>
<text x="1368.2" y="2168.85" text-anchor="middle">DMSO</text>
<text x="1437.8" y="2168.85" text-anchor="middle">Doxo</text>
<rect x="1505.5" y="2137.9" width="24" height="5"/>
<rect x="1551.4" y="2137.9" width="71" height="5"/>
<rect x="1505.5" y="2185.85" width="119" height="5"/>
<text x="1517" y="2168.85" text-anchor="middle">DMSO</text>
<text x="1586.6" y="2168.85" text-anchor="middle">Doxo</text>
<text x="1412.3" y="2217.65" text-anchor="middle">Female</text>
<text x="1562.6" y="2217.65" text-anchor="middle">Male</text>
<text x="1651.7" y="2123.65">ABT-737</text>
</g>
<text x="18" y="16.2" class="p">a</text>
<text x="18" y="581.4" class="p">b</text>
<text x="9" y="1148.4" class="p">c</text>
<text x="17" y="1723.3" class="p">d</text>
</svg></body></html>
